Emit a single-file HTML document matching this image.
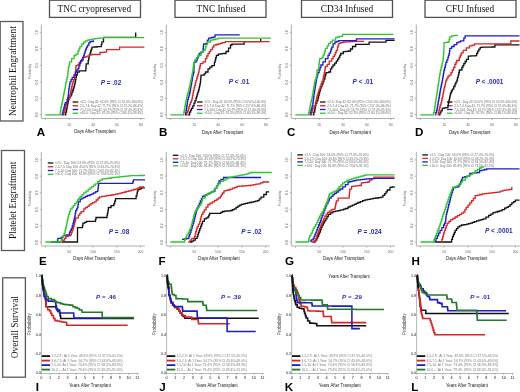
<!DOCTYPE html>
<html><head><meta charset="utf-8"><title>Figure</title>
<style>html,body{margin:0;padding:0;background:#fff;}body{width:520px;height:392px;overflow:hidden;}svg{display:block;will-change:transform;}</style>
</head><body>
<svg width="520" height="392" viewBox="0 0 520 392">
<rect x="0" y="0" width="520" height="392" fill="#fff"/>
<rect x="49.50" y="0.20" width="91.00" height="17.20" fill="none" stroke="#505050" stroke-width="1.30"/>
<text x="57.50" y="12.15" font-family='"Liberation Serif", serif' font-size="9.30" fill="#111">TNC cryopreserved</text>
<rect x="175.00" y="0.20" width="91.00" height="17.20" fill="none" stroke="#505050" stroke-width="1.30"/>
<text x="196.50" y="12.15" font-family='"Liberation Serif", serif' font-size="9.30" fill="#111">TNC Infused</text>
<rect x="301.50" y="0.20" width="91.00" height="17.20" fill="none" stroke="#505050" stroke-width="1.30"/>
<text x="320.80" y="12.15" font-family='"Liberation Serif", serif' font-size="9.30" fill="#111">CD34 Infused</text>
<rect x="425.00" y="0.20" width="91.00" height="17.20" fill="none" stroke="#505050" stroke-width="1.30"/>
<text x="445.80" y="12.15" font-family='"Liberation Serif", serif' font-size="9.30" fill="#111">CFU Infused</text>
<rect x="0.20" y="21.50" width="22.80" height="99.50" fill="none" stroke="#5a5a5a" stroke-width="1.30"/>
<text x="15.80" y="116.00" font-family='"Liberation Serif", serif' font-size="9.40" fill="#111" transform="rotate(-90.0 15.80 116.00)">Neutrophil Engraftment</text>
<rect x="1.50" y="150.50" width="23.00" height="100.00" fill="none" stroke="#5a5a5a" stroke-width="1.30"/>
<text x="16.10" y="239.00" font-family='"Liberation Serif", serif' font-size="9.40" fill="#111" transform="rotate(-90.0 16.10 239.00)">Platelet Engraftment</text>
<rect x="2.70" y="277.80" width="22.70" height="99.40" fill="none" stroke="#5a5a5a" stroke-width="1.30"/>
<text x="17.60" y="358.30" font-family='"Liberation Serif", serif' font-size="9.40" fill="#111" transform="rotate(-90.0 17.60 358.30)">Overall Survival</text>
<line x1="41.30" y1="24.50" x2="41.30" y2="118.00" stroke="#8a8a8a" stroke-width="0.70"/>
<line x1="39.70" y1="114.60" x2="41.30" y2="114.60" stroke="#8a8a8a" stroke-width="0.60"/>
<text x="37.70" y="114.60" font-family='"Liberation Sans", sans-serif' font-size="3.30" fill="#666" text-anchor="middle" transform="rotate(-90.0 37.70 114.60)">0.0</text>
<line x1="39.70" y1="98.30" x2="41.30" y2="98.30" stroke="#8a8a8a" stroke-width="0.60"/>
<text x="37.70" y="98.30" font-family='"Liberation Sans", sans-serif' font-size="3.30" fill="#666" text-anchor="middle" transform="rotate(-90.0 37.70 98.30)">0.2</text>
<line x1="39.70" y1="82.10" x2="41.30" y2="82.10" stroke="#8a8a8a" stroke-width="0.60"/>
<text x="37.70" y="82.10" font-family='"Liberation Sans", sans-serif' font-size="3.30" fill="#666" text-anchor="middle" transform="rotate(-90.0 37.70 82.10)">0.4</text>
<line x1="39.70" y1="65.30" x2="41.30" y2="65.30" stroke="#8a8a8a" stroke-width="0.60"/>
<text x="37.70" y="65.30" font-family='"Liberation Sans", sans-serif' font-size="3.30" fill="#666" text-anchor="middle" transform="rotate(-90.0 37.70 65.30)">0.6</text>
<line x1="39.70" y1="48.70" x2="41.30" y2="48.70" stroke="#8a8a8a" stroke-width="0.60"/>
<text x="37.70" y="48.70" font-family='"Liberation Sans", sans-serif' font-size="3.30" fill="#666" text-anchor="middle" transform="rotate(-90.0 37.70 48.70)">0.8</text>
<line x1="39.70" y1="32.40" x2="41.30" y2="32.40" stroke="#8a8a8a" stroke-width="0.60"/>
<text x="37.70" y="32.40" font-family='"Liberation Sans", sans-serif' font-size="3.30" fill="#666" text-anchor="middle" transform="rotate(-90.0 37.70 32.40)">1.0</text>
<text x="31.00" y="71.60" font-family='"Liberation Sans", sans-serif' font-size="3.30" fill="#666" text-anchor="middle" transform="rotate(-90.0 31.00 71.60)">Probability</text>
<line x1="41.30" y1="118.50" x2="144.80" y2="118.50" stroke="#8a8a8a" stroke-width="0.70"/>
<line x1="45.40" y1="118.50" x2="45.40" y2="120.10" stroke="#8a8a8a" stroke-width="0.60"/>
<line x1="69.28" y1="118.50" x2="69.28" y2="120.10" stroke="#8a8a8a" stroke-width="0.60"/>
<text x="69.28" y="125.50" font-family='"Liberation Sans", sans-serif' font-size="3.40" fill="#666" text-anchor="middle">20</text>
<line x1="93.15" y1="118.50" x2="93.15" y2="120.10" stroke="#8a8a8a" stroke-width="0.60"/>
<text x="93.15" y="125.50" font-family='"Liberation Sans", sans-serif' font-size="3.40" fill="#666" text-anchor="middle">40</text>
<line x1="117.03" y1="118.50" x2="117.03" y2="120.10" stroke="#8a8a8a" stroke-width="0.60"/>
<text x="117.03" y="125.50" font-family='"Liberation Sans", sans-serif' font-size="3.40" fill="#666" text-anchor="middle">60</text>
<line x1="140.90" y1="118.50" x2="140.90" y2="120.10" stroke="#8a8a8a" stroke-width="0.60"/>
<text x="140.90" y="125.50" font-family='"Liberation Sans", sans-serif' font-size="3.40" fill="#666" text-anchor="middle">80</text>
<text x="94.90" y="132.50" font-family='"Liberation Sans", sans-serif' font-size="4.60" fill="#222" text-anchor="middle" textLength="41.50" lengthAdjust="spacingAndGlyphs">Days After Transplant</text>
<text x="36.70" y="135.90" font-family='"Liberation Sans", sans-serif' font-size="11.60" fill="#000" font-weight="bold">A</text>
<text x="100.80" y="84.50" font-family='"Liberation Sans", sans-serif' font-size="6.40" font-weight="bold" fill="#2a2aa8"><tspan font-style="italic">P</tspan> = .02</text>
<line x1="72.60" y1="102.00" x2="78.20" y2="102.00" stroke="#111111" stroke-width="1.30"/>
<text x="79.90" y="103.20" font-family='"Liberation Sans", sans-serif' font-size="3.30" fill="#666" textLength="63.00" lengthAdjust="spacingAndGlyphs">&lt;2.5 :  Day 42: 62.0% (95% CI 52.0%-100.0%)</text>
<line x1="72.60" y1="105.75" x2="78.20" y2="105.75" stroke="#d82424" stroke-width="1.30"/>
<text x="79.90" y="106.95" font-family='"Liberation Sans", sans-serif' font-size="3.30" fill="#666" textLength="63.00" lengthAdjust="spacingAndGlyphs">2.5-7.4: Day 42: 71.7% (95% CI 57.0%-86.4%)</text>
<line x1="72.60" y1="109.50" x2="78.20" y2="109.50" stroke="#1c1cc8" stroke-width="1.30"/>
<text x="79.90" y="110.70" font-family='"Liberation Sans", sans-serif' font-size="3.30" fill="#666" textLength="63.00" lengthAdjust="spacingAndGlyphs">7.5-10.0: Day 42: 53.7% (95% CI 57.4%-95.3%)</text>
<line x1="72.60" y1="113.25" x2="78.20" y2="113.25" stroke="#2fc42f" stroke-width="1.30"/>
<text x="79.90" y="114.45" font-family='"Liberation Sans", sans-serif' font-size="3.30" fill="#666" textLength="63.00" lengthAdjust="spacingAndGlyphs">&gt;10.0 :  Day 42: 92.3% (95% CI 80.1%-99.4%)</text>
<line x1="166.30" y1="24.50" x2="166.30" y2="118.00" stroke="#8a8a8a" stroke-width="0.70"/>
<line x1="164.70" y1="114.60" x2="166.30" y2="114.60" stroke="#8a8a8a" stroke-width="0.60"/>
<text x="162.70" y="114.60" font-family='"Liberation Sans", sans-serif' font-size="3.30" fill="#666" text-anchor="middle" transform="rotate(-90.0 162.70 114.60)">0.0</text>
<line x1="164.70" y1="98.30" x2="166.30" y2="98.30" stroke="#8a8a8a" stroke-width="0.60"/>
<text x="162.70" y="98.30" font-family='"Liberation Sans", sans-serif' font-size="3.30" fill="#666" text-anchor="middle" transform="rotate(-90.0 162.70 98.30)">0.2</text>
<line x1="164.70" y1="82.10" x2="166.30" y2="82.10" stroke="#8a8a8a" stroke-width="0.60"/>
<text x="162.70" y="82.10" font-family='"Liberation Sans", sans-serif' font-size="3.30" fill="#666" text-anchor="middle" transform="rotate(-90.0 162.70 82.10)">0.4</text>
<line x1="164.70" y1="65.30" x2="166.30" y2="65.30" stroke="#8a8a8a" stroke-width="0.60"/>
<text x="162.70" y="65.30" font-family='"Liberation Sans", sans-serif' font-size="3.30" fill="#666" text-anchor="middle" transform="rotate(-90.0 162.70 65.30)">0.6</text>
<line x1="164.70" y1="48.70" x2="166.30" y2="48.70" stroke="#8a8a8a" stroke-width="0.60"/>
<text x="162.70" y="48.70" font-family='"Liberation Sans", sans-serif' font-size="3.30" fill="#666" text-anchor="middle" transform="rotate(-90.0 162.70 48.70)">0.8</text>
<line x1="164.70" y1="32.40" x2="166.30" y2="32.40" stroke="#8a8a8a" stroke-width="0.60"/>
<text x="162.70" y="32.40" font-family='"Liberation Sans", sans-serif' font-size="3.30" fill="#666" text-anchor="middle" transform="rotate(-90.0 162.70 32.40)">1.0</text>
<text x="156.00" y="71.60" font-family='"Liberation Sans", sans-serif' font-size="3.30" fill="#666" text-anchor="middle" transform="rotate(-90.0 156.00 71.60)">Probability</text>
<line x1="166.30" y1="118.50" x2="269.80" y2="118.50" stroke="#8a8a8a" stroke-width="0.70"/>
<line x1="170.40" y1="118.50" x2="170.40" y2="120.10" stroke="#8a8a8a" stroke-width="0.60"/>
<line x1="194.28" y1="118.50" x2="194.28" y2="120.10" stroke="#8a8a8a" stroke-width="0.60"/>
<text x="194.28" y="125.50" font-family='"Liberation Sans", sans-serif' font-size="3.40" fill="#666" text-anchor="middle">20</text>
<line x1="218.15" y1="118.50" x2="218.15" y2="120.10" stroke="#8a8a8a" stroke-width="0.60"/>
<text x="218.15" y="125.50" font-family='"Liberation Sans", sans-serif' font-size="3.40" fill="#666" text-anchor="middle">40</text>
<line x1="242.03" y1="118.50" x2="242.03" y2="120.10" stroke="#8a8a8a" stroke-width="0.60"/>
<text x="242.03" y="125.50" font-family='"Liberation Sans", sans-serif' font-size="3.40" fill="#666" text-anchor="middle">60</text>
<line x1="265.90" y1="118.50" x2="265.90" y2="120.10" stroke="#8a8a8a" stroke-width="0.60"/>
<text x="265.90" y="125.50" font-family='"Liberation Sans", sans-serif' font-size="3.40" fill="#666" text-anchor="middle">80</text>
<text x="222.80" y="133.90" font-family='"Liberation Sans", sans-serif' font-size="4.60" fill="#222" text-anchor="middle" textLength="41.50" lengthAdjust="spacingAndGlyphs">Days After Transplant</text>
<text x="158.90" y="135.90" font-family='"Liberation Sans", sans-serif' font-size="11.60" fill="#000" font-weight="bold">B</text>
<text x="228.80" y="84.40" font-family='"Liberation Sans", sans-serif' font-size="6.40" font-weight="bold" fill="#2a2aa8"><tspan font-style="italic">P</tspan> &lt; .01</text>
<line x1="197.00" y1="102.00" x2="202.60" y2="102.00" stroke="#111111" stroke-width="1.30"/>
<text x="204.30" y="103.20" font-family='"Liberation Sans", sans-serif' font-size="3.30" fill="#666" textLength="62.00" lengthAdjust="spacingAndGlyphs">&lt;2.5 :  Day 42: 62.0% (95% CI 52.0%-100.0%)</text>
<line x1="197.00" y1="105.75" x2="202.60" y2="105.75" stroke="#d82424" stroke-width="1.30"/>
<text x="204.30" y="106.95" font-family='"Liberation Sans", sans-serif' font-size="3.30" fill="#666" textLength="62.00" lengthAdjust="spacingAndGlyphs">2.5-7.4: Day 42: 71.7% (95% CI 57.0%-86.4%)</text>
<line x1="197.00" y1="109.50" x2="202.60" y2="109.50" stroke="#1c1cc8" stroke-width="1.30"/>
<text x="204.30" y="110.70" font-family='"Liberation Sans", sans-serif' font-size="3.30" fill="#666" textLength="62.00" lengthAdjust="spacingAndGlyphs">7.5-10.0: Day 42: 53.7% (95% CI 57.4%-95.3%)</text>
<line x1="197.00" y1="113.25" x2="202.60" y2="113.25" stroke="#2fc42f" stroke-width="1.30"/>
<text x="204.30" y="114.45" font-family='"Liberation Sans", sans-serif' font-size="3.30" fill="#666" textLength="62.00" lengthAdjust="spacingAndGlyphs">&gt;10.0 :  Day 42: 92.3% (95% CI 80.1%-99.4%)</text>
<line x1="291.30" y1="24.50" x2="291.30" y2="118.00" stroke="#8a8a8a" stroke-width="0.70"/>
<line x1="289.70" y1="114.60" x2="291.30" y2="114.60" stroke="#8a8a8a" stroke-width="0.60"/>
<text x="287.70" y="114.60" font-family='"Liberation Sans", sans-serif' font-size="3.30" fill="#666" text-anchor="middle" transform="rotate(-90.0 287.70 114.60)">0.0</text>
<line x1="289.70" y1="98.30" x2="291.30" y2="98.30" stroke="#8a8a8a" stroke-width="0.60"/>
<text x="287.70" y="98.30" font-family='"Liberation Sans", sans-serif' font-size="3.30" fill="#666" text-anchor="middle" transform="rotate(-90.0 287.70 98.30)">0.2</text>
<line x1="289.70" y1="82.10" x2="291.30" y2="82.10" stroke="#8a8a8a" stroke-width="0.60"/>
<text x="287.70" y="82.10" font-family='"Liberation Sans", sans-serif' font-size="3.30" fill="#666" text-anchor="middle" transform="rotate(-90.0 287.70 82.10)">0.4</text>
<line x1="289.70" y1="65.30" x2="291.30" y2="65.30" stroke="#8a8a8a" stroke-width="0.60"/>
<text x="287.70" y="65.30" font-family='"Liberation Sans", sans-serif' font-size="3.30" fill="#666" text-anchor="middle" transform="rotate(-90.0 287.70 65.30)">0.6</text>
<line x1="289.70" y1="48.70" x2="291.30" y2="48.70" stroke="#8a8a8a" stroke-width="0.60"/>
<text x="287.70" y="48.70" font-family='"Liberation Sans", sans-serif' font-size="3.30" fill="#666" text-anchor="middle" transform="rotate(-90.0 287.70 48.70)">0.8</text>
<line x1="289.70" y1="32.40" x2="291.30" y2="32.40" stroke="#8a8a8a" stroke-width="0.60"/>
<text x="287.70" y="32.40" font-family='"Liberation Sans", sans-serif' font-size="3.30" fill="#666" text-anchor="middle" transform="rotate(-90.0 287.70 32.40)">1.0</text>
<text x="281.00" y="71.60" font-family='"Liberation Sans", sans-serif' font-size="3.30" fill="#666" text-anchor="middle" transform="rotate(-90.0 281.00 71.60)">Probability</text>
<line x1="291.30" y1="118.50" x2="394.80" y2="118.50" stroke="#8a8a8a" stroke-width="0.70"/>
<line x1="295.40" y1="118.50" x2="295.40" y2="120.10" stroke="#8a8a8a" stroke-width="0.60"/>
<line x1="319.27" y1="118.50" x2="319.27" y2="120.10" stroke="#8a8a8a" stroke-width="0.60"/>
<text x="319.27" y="125.50" font-family='"Liberation Sans", sans-serif' font-size="3.40" fill="#666" text-anchor="middle">20</text>
<line x1="343.15" y1="118.50" x2="343.15" y2="120.10" stroke="#8a8a8a" stroke-width="0.60"/>
<text x="343.15" y="125.50" font-family='"Liberation Sans", sans-serif' font-size="3.40" fill="#666" text-anchor="middle">40</text>
<line x1="367.02" y1="118.50" x2="367.02" y2="120.10" stroke="#8a8a8a" stroke-width="0.60"/>
<text x="367.02" y="125.50" font-family='"Liberation Sans", sans-serif' font-size="3.40" fill="#666" text-anchor="middle">60</text>
<line x1="390.90" y1="118.50" x2="390.90" y2="120.10" stroke="#8a8a8a" stroke-width="0.60"/>
<text x="390.90" y="125.50" font-family='"Liberation Sans", sans-serif' font-size="3.40" fill="#666" text-anchor="middle">80</text>
<text x="350.20" y="133.80" font-family='"Liberation Sans", sans-serif' font-size="4.60" fill="#222" text-anchor="middle" textLength="41.50" lengthAdjust="spacingAndGlyphs">Days After Transplant</text>
<text x="287.00" y="135.90" font-family='"Liberation Sans", sans-serif' font-size="11.60" fill="#000" font-weight="bold">C</text>
<text x="352.60" y="84.20" font-family='"Liberation Sans", sans-serif' font-size="6.40" font-weight="bold" fill="#2a2aa8"><tspan font-style="italic">P</tspan> &lt; .01</text>
<line x1="320.00" y1="102.00" x2="325.60" y2="102.00" stroke="#111111" stroke-width="1.30"/>
<text x="327.30" y="103.20" font-family='"Liberation Sans", sans-serif' font-size="3.30" fill="#666" textLength="63.50" lengthAdjust="spacingAndGlyphs">&lt;2.5 :  Day 42: 62.0% (95% CI 52.0%-100.0%)</text>
<line x1="320.00" y1="105.75" x2="325.60" y2="105.75" stroke="#d82424" stroke-width="1.30"/>
<text x="327.30" y="106.95" font-family='"Liberation Sans", sans-serif' font-size="3.30" fill="#666" textLength="63.50" lengthAdjust="spacingAndGlyphs">2.5-7.4: Day 42: 71.7% (95% CI 57.0%-86.4%)</text>
<line x1="320.00" y1="109.50" x2="325.60" y2="109.50" stroke="#1c1cc8" stroke-width="1.30"/>
<text x="327.30" y="110.70" font-family='"Liberation Sans", sans-serif' font-size="3.30" fill="#666" textLength="63.50" lengthAdjust="spacingAndGlyphs">7.5-10.0: Day 42: 53.7% (95% CI 57.4%-95.3%)</text>
<line x1="320.00" y1="113.25" x2="325.60" y2="113.25" stroke="#2fc42f" stroke-width="1.30"/>
<text x="327.30" y="114.45" font-family='"Liberation Sans", sans-serif' font-size="3.30" fill="#666" textLength="63.50" lengthAdjust="spacingAndGlyphs">&gt;10.0 :  Day 42: 92.3% (95% CI 80.1%-99.4%)</text>
<line x1="416.30" y1="24.50" x2="416.30" y2="118.00" stroke="#8a8a8a" stroke-width="0.70"/>
<line x1="414.70" y1="114.60" x2="416.30" y2="114.60" stroke="#8a8a8a" stroke-width="0.60"/>
<text x="412.70" y="114.60" font-family='"Liberation Sans", sans-serif' font-size="3.30" fill="#666" text-anchor="middle" transform="rotate(-90.0 412.70 114.60)">0.0</text>
<line x1="414.70" y1="98.30" x2="416.30" y2="98.30" stroke="#8a8a8a" stroke-width="0.60"/>
<text x="412.70" y="98.30" font-family='"Liberation Sans", sans-serif' font-size="3.30" fill="#666" text-anchor="middle" transform="rotate(-90.0 412.70 98.30)">0.2</text>
<line x1="414.70" y1="82.10" x2="416.30" y2="82.10" stroke="#8a8a8a" stroke-width="0.60"/>
<text x="412.70" y="82.10" font-family='"Liberation Sans", sans-serif' font-size="3.30" fill="#666" text-anchor="middle" transform="rotate(-90.0 412.70 82.10)">0.4</text>
<line x1="414.70" y1="65.30" x2="416.30" y2="65.30" stroke="#8a8a8a" stroke-width="0.60"/>
<text x="412.70" y="65.30" font-family='"Liberation Sans", sans-serif' font-size="3.30" fill="#666" text-anchor="middle" transform="rotate(-90.0 412.70 65.30)">0.6</text>
<line x1="414.70" y1="48.70" x2="416.30" y2="48.70" stroke="#8a8a8a" stroke-width="0.60"/>
<text x="412.70" y="48.70" font-family='"Liberation Sans", sans-serif' font-size="3.30" fill="#666" text-anchor="middle" transform="rotate(-90.0 412.70 48.70)">0.8</text>
<line x1="414.70" y1="32.40" x2="416.30" y2="32.40" stroke="#8a8a8a" stroke-width="0.60"/>
<text x="412.70" y="32.40" font-family='"Liberation Sans", sans-serif' font-size="3.30" fill="#666" text-anchor="middle" transform="rotate(-90.0 412.70 32.40)">1.0</text>
<text x="406.00" y="71.60" font-family='"Liberation Sans", sans-serif' font-size="3.30" fill="#666" text-anchor="middle" transform="rotate(-90.0 406.00 71.60)">Probability</text>
<line x1="416.30" y1="118.50" x2="519.80" y2="118.50" stroke="#8a8a8a" stroke-width="0.70"/>
<line x1="420.40" y1="118.50" x2="420.40" y2="120.10" stroke="#8a8a8a" stroke-width="0.60"/>
<line x1="444.27" y1="118.50" x2="444.27" y2="120.10" stroke="#8a8a8a" stroke-width="0.60"/>
<text x="444.27" y="125.50" font-family='"Liberation Sans", sans-serif' font-size="3.40" fill="#666" text-anchor="middle">20</text>
<line x1="468.15" y1="118.50" x2="468.15" y2="120.10" stroke="#8a8a8a" stroke-width="0.60"/>
<text x="468.15" y="125.50" font-family='"Liberation Sans", sans-serif' font-size="3.40" fill="#666" text-anchor="middle">40</text>
<line x1="492.02" y1="118.50" x2="492.02" y2="120.10" stroke="#8a8a8a" stroke-width="0.60"/>
<text x="492.02" y="125.50" font-family='"Liberation Sans", sans-serif' font-size="3.40" fill="#666" text-anchor="middle">60</text>
<line x1="515.90" y1="118.50" x2="515.90" y2="120.10" stroke="#8a8a8a" stroke-width="0.60"/>
<text x="515.90" y="125.50" font-family='"Liberation Sans", sans-serif' font-size="3.40" fill="#666" text-anchor="middle">80</text>
<text x="469.80" y="133.80" font-family='"Liberation Sans", sans-serif' font-size="4.60" fill="#222" text-anchor="middle" textLength="41.50" lengthAdjust="spacingAndGlyphs">Days After Transplant</text>
<text x="415.10" y="135.90" font-family='"Liberation Sans", sans-serif' font-size="11.60" fill="#000" font-weight="bold">D</text>
<text x="475.80" y="84.10" font-family='"Liberation Sans", sans-serif' font-size="6.40" font-weight="bold" fill="#2a2aa8"><tspan font-style="italic">P</tspan> &lt; .0001</text>
<line x1="446.90" y1="102.00" x2="452.50" y2="102.00" stroke="#111111" stroke-width="1.30"/>
<text x="454.20" y="103.20" font-family='"Liberation Sans", sans-serif' font-size="3.30" fill="#666" textLength="63.00" lengthAdjust="spacingAndGlyphs">&lt;2.5 :  Day 42: 62.0% (95% CI 52.0%-100.0%)</text>
<line x1="446.90" y1="105.75" x2="452.50" y2="105.75" stroke="#d82424" stroke-width="1.30"/>
<text x="454.20" y="106.95" font-family='"Liberation Sans", sans-serif' font-size="3.30" fill="#666" textLength="63.00" lengthAdjust="spacingAndGlyphs">2.5-7.4: Day 42: 71.7% (95% CI 57.0%-86.4%)</text>
<line x1="446.90" y1="109.50" x2="452.50" y2="109.50" stroke="#1c1cc8" stroke-width="1.30"/>
<text x="454.20" y="110.70" font-family='"Liberation Sans", sans-serif' font-size="3.30" fill="#666" textLength="63.00" lengthAdjust="spacingAndGlyphs">7.5-10.0: Day 42: 53.7% (95% CI 57.4%-95.3%)</text>
<line x1="446.90" y1="113.25" x2="452.50" y2="113.25" stroke="#2fc42f" stroke-width="1.30"/>
<text x="454.20" y="114.45" font-family='"Liberation Sans", sans-serif' font-size="3.30" fill="#666" textLength="63.00" lengthAdjust="spacingAndGlyphs">&gt;10.0 :  Day 42: 92.3% (95% CI 80.1%-99.4%)</text>
<line x1="41.30" y1="152.00" x2="41.30" y2="245.50" stroke="#8a8a8a" stroke-width="0.70"/>
<line x1="39.70" y1="242.10" x2="41.30" y2="242.10" stroke="#8a8a8a" stroke-width="0.60"/>
<text x="37.70" y="242.10" font-family='"Liberation Sans", sans-serif' font-size="3.30" fill="#666" text-anchor="middle" transform="rotate(-90.0 37.70 242.10)">0.0</text>
<line x1="39.70" y1="225.80" x2="41.30" y2="225.80" stroke="#8a8a8a" stroke-width="0.60"/>
<text x="37.70" y="225.80" font-family='"Liberation Sans", sans-serif' font-size="3.30" fill="#666" text-anchor="middle" transform="rotate(-90.0 37.70 225.80)">0.2</text>
<line x1="39.70" y1="209.60" x2="41.30" y2="209.60" stroke="#8a8a8a" stroke-width="0.60"/>
<text x="37.70" y="209.60" font-family='"Liberation Sans", sans-serif' font-size="3.30" fill="#666" text-anchor="middle" transform="rotate(-90.0 37.70 209.60)">0.4</text>
<line x1="39.70" y1="192.80" x2="41.30" y2="192.80" stroke="#8a8a8a" stroke-width="0.60"/>
<text x="37.70" y="192.80" font-family='"Liberation Sans", sans-serif' font-size="3.30" fill="#666" text-anchor="middle" transform="rotate(-90.0 37.70 192.80)">0.6</text>
<line x1="39.70" y1="176.20" x2="41.30" y2="176.20" stroke="#8a8a8a" stroke-width="0.60"/>
<text x="37.70" y="176.20" font-family='"Liberation Sans", sans-serif' font-size="3.30" fill="#666" text-anchor="middle" transform="rotate(-90.0 37.70 176.20)">0.8</text>
<line x1="39.70" y1="159.90" x2="41.30" y2="159.90" stroke="#8a8a8a" stroke-width="0.60"/>
<text x="37.70" y="159.90" font-family='"Liberation Sans", sans-serif' font-size="3.30" fill="#666" text-anchor="middle" transform="rotate(-90.0 37.70 159.90)">1.0</text>
<text x="31.00" y="198.50" font-family='"Liberation Sans", sans-serif' font-size="3.30" fill="#666" text-anchor="middle" transform="rotate(-90.0 31.00 198.50)">Probability</text>
<line x1="41.30" y1="246.00" x2="144.80" y2="246.00" stroke="#8a8a8a" stroke-width="0.70"/>
<line x1="45.40" y1="246.00" x2="45.40" y2="247.60" stroke="#8a8a8a" stroke-width="0.60"/>
<line x1="69.17" y1="246.00" x2="69.17" y2="247.60" stroke="#8a8a8a" stroke-width="0.60"/>
<text x="69.17" y="253.00" font-family='"Liberation Sans", sans-serif' font-size="3.40" fill="#666" text-anchor="middle">50</text>
<line x1="92.95" y1="246.00" x2="92.95" y2="247.60" stroke="#8a8a8a" stroke-width="0.60"/>
<text x="92.95" y="253.00" font-family='"Liberation Sans", sans-serif' font-size="3.40" fill="#666" text-anchor="middle">100</text>
<line x1="116.72" y1="246.00" x2="116.72" y2="247.60" stroke="#8a8a8a" stroke-width="0.60"/>
<text x="116.72" y="253.00" font-family='"Liberation Sans", sans-serif' font-size="3.40" fill="#666" text-anchor="middle">150</text>
<line x1="140.50" y1="246.00" x2="140.50" y2="247.60" stroke="#8a8a8a" stroke-width="0.60"/>
<text x="140.50" y="253.00" font-family='"Liberation Sans", sans-serif' font-size="3.40" fill="#666" text-anchor="middle">200</text>
<text x="94.00" y="259.60" font-family='"Liberation Sans", sans-serif' font-size="4.60" fill="#222" text-anchor="middle" textLength="41.50" lengthAdjust="spacingAndGlyphs">Days After Transplant</text>
<text x="38.90" y="264.60" font-family='"Liberation Sans", sans-serif' font-size="11.60" fill="#000" font-weight="bold">E</text>
<text x="108.80" y="233.50" font-family='"Liberation Sans", sans-serif' font-size="6.40" font-weight="bold" fill="#2a2aa8"><tspan font-style="italic">P</tspan> = .08</text>
<line x1="47.80" y1="163.00" x2="53.40" y2="163.00" stroke="#111111" stroke-width="1.30"/>
<text x="55.10" y="164.20" font-family='"Liberation Sans", sans-serif' font-size="3.30" fill="#666" textLength="64.80" lengthAdjust="spacingAndGlyphs">&lt;2.5 :  Day 100: 53.0% (95% CI 27.0%-70.0%)</text>
<line x1="47.80" y1="166.75" x2="53.40" y2="166.75" stroke="#d82424" stroke-width="1.30"/>
<text x="55.10" y="167.95" font-family='"Liberation Sans", sans-serif' font-size="3.30" fill="#666" textLength="64.80" lengthAdjust="spacingAndGlyphs">2.5-7.5: Day 100: 45.6% (95% CI 43.2%-70.3%)</text>
<line x1="47.80" y1="170.50" x2="53.40" y2="170.50" stroke="#1c1cc8" stroke-width="1.30"/>
<text x="55.10" y="171.70" font-family='"Liberation Sans", sans-serif' font-size="3.30" fill="#666" textLength="64.80" lengthAdjust="spacingAndGlyphs">7.5-10: Day 100: 71.7% (95% CI 63.5%-82.4%)</text>
<line x1="47.80" y1="174.25" x2="53.40" y2="174.25" stroke="#2fc42f" stroke-width="1.30"/>
<text x="55.10" y="175.45" font-family='"Liberation Sans", sans-serif' font-size="3.30" fill="#666" textLength="64.80" lengthAdjust="spacingAndGlyphs">&gt;10.0 :  Day 100: 81.8% (95% CI 73.6%-92.1%)</text>
<line x1="166.30" y1="152.00" x2="166.30" y2="245.50" stroke="#8a8a8a" stroke-width="0.70"/>
<line x1="164.70" y1="242.10" x2="166.30" y2="242.10" stroke="#8a8a8a" stroke-width="0.60"/>
<text x="162.70" y="242.10" font-family='"Liberation Sans", sans-serif' font-size="3.30" fill="#666" text-anchor="middle" transform="rotate(-90.0 162.70 242.10)">0.0</text>
<line x1="164.70" y1="225.80" x2="166.30" y2="225.80" stroke="#8a8a8a" stroke-width="0.60"/>
<text x="162.70" y="225.80" font-family='"Liberation Sans", sans-serif' font-size="3.30" fill="#666" text-anchor="middle" transform="rotate(-90.0 162.70 225.80)">0.2</text>
<line x1="164.70" y1="209.60" x2="166.30" y2="209.60" stroke="#8a8a8a" stroke-width="0.60"/>
<text x="162.70" y="209.60" font-family='"Liberation Sans", sans-serif' font-size="3.30" fill="#666" text-anchor="middle" transform="rotate(-90.0 162.70 209.60)">0.4</text>
<line x1="164.70" y1="192.80" x2="166.30" y2="192.80" stroke="#8a8a8a" stroke-width="0.60"/>
<text x="162.70" y="192.80" font-family='"Liberation Sans", sans-serif' font-size="3.30" fill="#666" text-anchor="middle" transform="rotate(-90.0 162.70 192.80)">0.6</text>
<line x1="164.70" y1="176.20" x2="166.30" y2="176.20" stroke="#8a8a8a" stroke-width="0.60"/>
<text x="162.70" y="176.20" font-family='"Liberation Sans", sans-serif' font-size="3.30" fill="#666" text-anchor="middle" transform="rotate(-90.0 162.70 176.20)">0.8</text>
<line x1="164.70" y1="159.90" x2="166.30" y2="159.90" stroke="#8a8a8a" stroke-width="0.60"/>
<text x="162.70" y="159.90" font-family='"Liberation Sans", sans-serif' font-size="3.30" fill="#666" text-anchor="middle" transform="rotate(-90.0 162.70 159.90)">1.0</text>
<text x="156.00" y="198.50" font-family='"Liberation Sans", sans-serif' font-size="3.30" fill="#666" text-anchor="middle" transform="rotate(-90.0 156.00 198.50)">Probability</text>
<line x1="166.30" y1="246.00" x2="269.80" y2="246.00" stroke="#8a8a8a" stroke-width="0.70"/>
<line x1="170.40" y1="246.00" x2="170.40" y2="247.60" stroke="#8a8a8a" stroke-width="0.60"/>
<line x1="194.18" y1="246.00" x2="194.18" y2="247.60" stroke="#8a8a8a" stroke-width="0.60"/>
<text x="194.18" y="253.00" font-family='"Liberation Sans", sans-serif' font-size="3.40" fill="#666" text-anchor="middle">50</text>
<line x1="217.95" y1="246.00" x2="217.95" y2="247.60" stroke="#8a8a8a" stroke-width="0.60"/>
<text x="217.95" y="253.00" font-family='"Liberation Sans", sans-serif' font-size="3.40" fill="#666" text-anchor="middle">100</text>
<line x1="241.73" y1="246.00" x2="241.73" y2="247.60" stroke="#8a8a8a" stroke-width="0.60"/>
<text x="241.73" y="253.00" font-family='"Liberation Sans", sans-serif' font-size="3.40" fill="#666" text-anchor="middle">150</text>
<line x1="265.50" y1="246.00" x2="265.50" y2="247.60" stroke="#8a8a8a" stroke-width="0.60"/>
<text x="265.50" y="253.00" font-family='"Liberation Sans", sans-serif' font-size="3.40" fill="#666" text-anchor="middle">200</text>
<text x="219.00" y="260.00" font-family='"Liberation Sans", sans-serif' font-size="4.60" fill="#222" text-anchor="middle" textLength="41.50" lengthAdjust="spacingAndGlyphs">Days After Transplant</text>
<text x="158.60" y="264.60" font-family='"Liberation Sans", sans-serif' font-size="11.60" fill="#000" font-weight="bold">F</text>
<text x="241.20" y="233.50" font-family='"Liberation Sans", sans-serif' font-size="6.40" font-weight="bold" fill="#2a2aa8"><tspan font-style="italic">P</tspan> = .02</text>
<line x1="172.80" y1="155.30" x2="178.40" y2="155.30" stroke="#111111" stroke-width="1.30"/>
<text x="180.10" y="156.50" font-family='"Liberation Sans", sans-serif' font-size="3.30" fill="#666" textLength="65.70" lengthAdjust="spacingAndGlyphs">&lt;2.5 :  Day 100: 53.0% (95% CI 27.0%-70.0%)</text>
<line x1="172.80" y1="158.80" x2="178.40" y2="158.80" stroke="#d82424" stroke-width="1.30"/>
<text x="180.10" y="160.00" font-family='"Liberation Sans", sans-serif' font-size="3.30" fill="#666" textLength="65.70" lengthAdjust="spacingAndGlyphs">2.5-7.5: Day 100: 45.6% (95% CI 43.2%-70.3%)</text>
<line x1="172.80" y1="162.30" x2="178.40" y2="162.30" stroke="#1c1cc8" stroke-width="1.30"/>
<text x="180.10" y="163.50" font-family='"Liberation Sans", sans-serif' font-size="3.30" fill="#666" textLength="65.70" lengthAdjust="spacingAndGlyphs">7.5-10: Day 100: 71.7% (95% CI 63.5%-82.4%)</text>
<line x1="172.80" y1="165.80" x2="178.40" y2="165.80" stroke="#2fc42f" stroke-width="1.30"/>
<text x="180.10" y="167.00" font-family='"Liberation Sans", sans-serif' font-size="3.30" fill="#666" textLength="65.70" lengthAdjust="spacingAndGlyphs">&gt;10.0 :  Day 100: 81.8% (95% CI 73.6%-92.1%)</text>
<line x1="291.30" y1="152.00" x2="291.30" y2="245.50" stroke="#8a8a8a" stroke-width="0.70"/>
<line x1="289.70" y1="242.10" x2="291.30" y2="242.10" stroke="#8a8a8a" stroke-width="0.60"/>
<text x="287.70" y="242.10" font-family='"Liberation Sans", sans-serif' font-size="3.30" fill="#666" text-anchor="middle" transform="rotate(-90.0 287.70 242.10)">0.0</text>
<line x1="289.70" y1="225.80" x2="291.30" y2="225.80" stroke="#8a8a8a" stroke-width="0.60"/>
<text x="287.70" y="225.80" font-family='"Liberation Sans", sans-serif' font-size="3.30" fill="#666" text-anchor="middle" transform="rotate(-90.0 287.70 225.80)">0.2</text>
<line x1="289.70" y1="209.60" x2="291.30" y2="209.60" stroke="#8a8a8a" stroke-width="0.60"/>
<text x="287.70" y="209.60" font-family='"Liberation Sans", sans-serif' font-size="3.30" fill="#666" text-anchor="middle" transform="rotate(-90.0 287.70 209.60)">0.4</text>
<line x1="289.70" y1="192.80" x2="291.30" y2="192.80" stroke="#8a8a8a" stroke-width="0.60"/>
<text x="287.70" y="192.80" font-family='"Liberation Sans", sans-serif' font-size="3.30" fill="#666" text-anchor="middle" transform="rotate(-90.0 287.70 192.80)">0.6</text>
<line x1="289.70" y1="176.20" x2="291.30" y2="176.20" stroke="#8a8a8a" stroke-width="0.60"/>
<text x="287.70" y="176.20" font-family='"Liberation Sans", sans-serif' font-size="3.30" fill="#666" text-anchor="middle" transform="rotate(-90.0 287.70 176.20)">0.8</text>
<line x1="289.70" y1="159.90" x2="291.30" y2="159.90" stroke="#8a8a8a" stroke-width="0.60"/>
<text x="287.70" y="159.90" font-family='"Liberation Sans", sans-serif' font-size="3.30" fill="#666" text-anchor="middle" transform="rotate(-90.0 287.70 159.90)">1.0</text>
<text x="281.00" y="198.50" font-family='"Liberation Sans", sans-serif' font-size="3.30" fill="#666" text-anchor="middle" transform="rotate(-90.0 281.00 198.50)">Probability</text>
<line x1="291.30" y1="246.00" x2="394.80" y2="246.00" stroke="#8a8a8a" stroke-width="0.70"/>
<line x1="295.40" y1="246.00" x2="295.40" y2="247.60" stroke="#8a8a8a" stroke-width="0.60"/>
<line x1="319.17" y1="246.00" x2="319.17" y2="247.60" stroke="#8a8a8a" stroke-width="0.60"/>
<text x="319.17" y="253.00" font-family='"Liberation Sans", sans-serif' font-size="3.40" fill="#666" text-anchor="middle">50</text>
<line x1="342.95" y1="246.00" x2="342.95" y2="247.60" stroke="#8a8a8a" stroke-width="0.60"/>
<text x="342.95" y="253.00" font-family='"Liberation Sans", sans-serif' font-size="3.40" fill="#666" text-anchor="middle">100</text>
<line x1="366.72" y1="246.00" x2="366.72" y2="247.60" stroke="#8a8a8a" stroke-width="0.60"/>
<text x="366.72" y="253.00" font-family='"Liberation Sans", sans-serif' font-size="3.40" fill="#666" text-anchor="middle">150</text>
<line x1="390.50" y1="246.00" x2="390.50" y2="247.60" stroke="#8a8a8a" stroke-width="0.60"/>
<text x="390.50" y="253.00" font-family='"Liberation Sans", sans-serif' font-size="3.40" fill="#666" text-anchor="middle">200</text>
<text x="343.80" y="259.90" font-family='"Liberation Sans", sans-serif' font-size="4.60" fill="#222" text-anchor="middle" textLength="41.50" lengthAdjust="spacingAndGlyphs">Days After Transplant</text>
<text x="285.00" y="264.60" font-family='"Liberation Sans", sans-serif' font-size="11.60" fill="#000" font-weight="bold">G</text>
<text x="357.50" y="233.70" font-family='"Liberation Sans", sans-serif' font-size="6.40" font-weight="bold" fill="#2a2aa8"><tspan font-style="italic">P</tspan> = .024</text>
<line x1="297.30" y1="154.90" x2="302.90" y2="154.90" stroke="#111111" stroke-width="1.30"/>
<text x="304.60" y="156.10" font-family='"Liberation Sans", sans-serif' font-size="3.30" fill="#666" textLength="64.00" lengthAdjust="spacingAndGlyphs">&lt;2.5 :  Day 100: 53.0% (95% CI 27.0%-70.0%)</text>
<line x1="297.30" y1="158.40" x2="302.90" y2="158.40" stroke="#d82424" stroke-width="1.30"/>
<text x="304.60" y="159.60" font-family='"Liberation Sans", sans-serif' font-size="3.30" fill="#666" textLength="64.00" lengthAdjust="spacingAndGlyphs">2.5-7.5: Day 100: 45.6% (95% CI 43.2%-70.3%)</text>
<line x1="297.30" y1="161.90" x2="302.90" y2="161.90" stroke="#1c1cc8" stroke-width="1.30"/>
<text x="304.60" y="163.10" font-family='"Liberation Sans", sans-serif' font-size="3.30" fill="#666" textLength="64.00" lengthAdjust="spacingAndGlyphs">7.5-10: Day 100: 71.7% (95% CI 63.5%-82.4%)</text>
<line x1="297.30" y1="165.40" x2="302.90" y2="165.40" stroke="#2fc42f" stroke-width="1.30"/>
<text x="304.60" y="166.60" font-family='"Liberation Sans", sans-serif' font-size="3.30" fill="#666" textLength="64.00" lengthAdjust="spacingAndGlyphs">&gt;10.0 :  Day 100: 81.8% (95% CI 73.6%-92.1%)</text>
<line x1="416.30" y1="152.00" x2="416.30" y2="245.50" stroke="#8a8a8a" stroke-width="0.70"/>
<line x1="414.70" y1="242.10" x2="416.30" y2="242.10" stroke="#8a8a8a" stroke-width="0.60"/>
<text x="412.70" y="242.10" font-family='"Liberation Sans", sans-serif' font-size="3.30" fill="#666" text-anchor="middle" transform="rotate(-90.0 412.70 242.10)">0.0</text>
<line x1="414.70" y1="225.80" x2="416.30" y2="225.80" stroke="#8a8a8a" stroke-width="0.60"/>
<text x="412.70" y="225.80" font-family='"Liberation Sans", sans-serif' font-size="3.30" fill="#666" text-anchor="middle" transform="rotate(-90.0 412.70 225.80)">0.2</text>
<line x1="414.70" y1="209.60" x2="416.30" y2="209.60" stroke="#8a8a8a" stroke-width="0.60"/>
<text x="412.70" y="209.60" font-family='"Liberation Sans", sans-serif' font-size="3.30" fill="#666" text-anchor="middle" transform="rotate(-90.0 412.70 209.60)">0.4</text>
<line x1="414.70" y1="192.80" x2="416.30" y2="192.80" stroke="#8a8a8a" stroke-width="0.60"/>
<text x="412.70" y="192.80" font-family='"Liberation Sans", sans-serif' font-size="3.30" fill="#666" text-anchor="middle" transform="rotate(-90.0 412.70 192.80)">0.6</text>
<line x1="414.70" y1="176.20" x2="416.30" y2="176.20" stroke="#8a8a8a" stroke-width="0.60"/>
<text x="412.70" y="176.20" font-family='"Liberation Sans", sans-serif' font-size="3.30" fill="#666" text-anchor="middle" transform="rotate(-90.0 412.70 176.20)">0.8</text>
<line x1="414.70" y1="159.90" x2="416.30" y2="159.90" stroke="#8a8a8a" stroke-width="0.60"/>
<text x="412.70" y="159.90" font-family='"Liberation Sans", sans-serif' font-size="3.30" fill="#666" text-anchor="middle" transform="rotate(-90.0 412.70 159.90)">1.0</text>
<text x="406.00" y="198.50" font-family='"Liberation Sans", sans-serif' font-size="3.30" fill="#666" text-anchor="middle" transform="rotate(-90.0 406.00 198.50)">Probability</text>
<line x1="416.30" y1="246.00" x2="519.80" y2="246.00" stroke="#8a8a8a" stroke-width="0.70"/>
<line x1="420.40" y1="246.00" x2="420.40" y2="247.60" stroke="#8a8a8a" stroke-width="0.60"/>
<line x1="444.17" y1="246.00" x2="444.17" y2="247.60" stroke="#8a8a8a" stroke-width="0.60"/>
<text x="444.17" y="253.00" font-family='"Liberation Sans", sans-serif' font-size="3.40" fill="#666" text-anchor="middle">50</text>
<line x1="467.95" y1="246.00" x2="467.95" y2="247.60" stroke="#8a8a8a" stroke-width="0.60"/>
<text x="467.95" y="253.00" font-family='"Liberation Sans", sans-serif' font-size="3.40" fill="#666" text-anchor="middle">100</text>
<line x1="491.72" y1="246.00" x2="491.72" y2="247.60" stroke="#8a8a8a" stroke-width="0.60"/>
<text x="491.72" y="253.00" font-family='"Liberation Sans", sans-serif' font-size="3.40" fill="#666" text-anchor="middle">150</text>
<line x1="515.50" y1="246.00" x2="515.50" y2="247.60" stroke="#8a8a8a" stroke-width="0.60"/>
<text x="515.50" y="253.00" font-family='"Liberation Sans", sans-serif' font-size="3.40" fill="#666" text-anchor="middle">200</text>
<text x="466.80" y="259.60" font-family='"Liberation Sans", sans-serif' font-size="4.60" fill="#222" text-anchor="middle" textLength="41.50" lengthAdjust="spacingAndGlyphs">Days After Transplant</text>
<text x="411.50" y="264.60" font-family='"Liberation Sans", sans-serif' font-size="11.60" fill="#000" font-weight="bold">H</text>
<text x="485.00" y="233.40" font-family='"Liberation Sans", sans-serif' font-size="6.40" font-weight="bold" fill="#2a2aa8"><tspan font-style="italic">P</tspan> &lt; .0001</text>
<line x1="422.30" y1="154.90" x2="427.90" y2="154.90" stroke="#111111" stroke-width="1.30"/>
<text x="429.60" y="156.10" font-family='"Liberation Sans", sans-serif' font-size="3.30" fill="#666" textLength="64.80" lengthAdjust="spacingAndGlyphs">&lt;2.5 :  Day 100: 53.0% (95% CI 27.0%-70.0%)</text>
<line x1="422.30" y1="158.40" x2="427.90" y2="158.40" stroke="#d82424" stroke-width="1.30"/>
<text x="429.60" y="159.60" font-family='"Liberation Sans", sans-serif' font-size="3.30" fill="#666" textLength="64.80" lengthAdjust="spacingAndGlyphs">2.5-7.5: Day 100: 45.6% (95% CI 43.2%-70.3%)</text>
<line x1="422.30" y1="161.90" x2="427.90" y2="161.90" stroke="#1c1cc8" stroke-width="1.30"/>
<text x="429.60" y="163.10" font-family='"Liberation Sans", sans-serif' font-size="3.30" fill="#666" textLength="64.80" lengthAdjust="spacingAndGlyphs">7.5-10: Day 100: 71.7% (95% CI 63.5%-82.4%)</text>
<line x1="422.30" y1="165.40" x2="427.90" y2="165.40" stroke="#2fc42f" stroke-width="1.30"/>
<text x="429.60" y="166.60" font-family='"Liberation Sans", sans-serif' font-size="3.30" fill="#666" textLength="64.80" lengthAdjust="spacingAndGlyphs">&gt;10.0 :  Day 100: 81.8% (95% CI 73.6%-92.1%)</text>
<polyline points="64.8,114.8 65.7,114.8 65.7,112.2 66.5,112.2 66.5,109.5 66.9,109.5 66.9,107.6 67.2,107.6 67.2,105.6 67.6,105.6 67.6,103.7 68.0,103.7 68.0,101.8 68.4,101.8 68.4,99.9 68.8,99.9 68.8,98.0 69.9,98.0 69.9,96.2 71.1,96.2 71.1,94.5 71.9,94.5 71.9,92.2 72.8,92.2 72.8,90.0 73.4,90.0 73.4,88.2 74.0,88.2 74.0,86.5 74.5,86.5 74.5,84.2 75.1,84.2 75.1,81.9 75.5,81.9 75.5,79.6 75.9,79.6 75.9,77.3 76.3,77.3 76.3,75.0 77.3,75.0 77.3,72.1 79.2,72.1 79.2,70.8 85.6,70.8 85.8,70.8 85.8,68.5 86.0,68.5 86.0,66.1 86.2,66.1 86.2,63.8 88.2,63.8 88.2,60.6 88.6,60.6 88.6,58.7 89.0,58.7 89.0,56.8 89.4,56.8 89.4,54.9 90.1,54.9 90.1,53.0 90.7,53.0 90.7,51.0 91.3,51.0 91.3,49.1 92.0,49.1 92.0,47.2 94.5,47.2 94.5,47.0 97.1,47.0 97.1,46.7 100.8,46.7 101.3,46.7 101.3,44.3 101.9,44.3 101.9,41.9 103.5,41.9 103.5,39.3 103.5,37.3 135.7,37.3 135.7,32.4" fill="none" stroke="#111111" stroke-width="1.30"/>
<polyline points="63.0,114.8 63.9,114.8 63.9,112.2 64.8,112.2 64.8,109.5 65.3,109.5 65.3,107.2 65.9,107.2 65.9,104.9 66.8,104.9 66.8,102.3 67.6,102.3 67.6,99.7 69.4,99.7 69.4,96.8 70.0,96.8 70.0,94.5 70.5,94.5 70.5,92.2 70.9,92.2 70.9,90.3 71.3,90.3 71.3,88.4 71.7,88.4 71.7,86.5 72.2,86.5 72.2,84.2 72.8,84.2 72.8,81.9 73.7,81.9 73.7,79.6 74.5,79.6 74.5,77.3 75.0,77.3 75.0,74.7 75.4,74.7 75.4,72.1 75.6,72.1 75.6,70.0 75.8,70.0 75.8,67.8 76.0,67.8 76.0,65.7 78.0,65.7 78.0,64.4 79.2,64.4 79.2,62.5 80.5,62.5 80.5,60.6 83.0,60.6 83.0,57.4 85.0,57.4 85.0,56.8 86.9,56.8 86.9,56.1 89.4,56.1 89.4,54.9 92.0,54.9 92.0,54.5 99.5,54.5 100.0,54.5 100.0,52.5 102.2,52.5 102.2,52.3 104.4,52.3 104.4,52.2 106.6,52.2 106.6,52.0 106.6,49.6 119.6,49.6 119.6,47.2 144.4,47.2" fill="none" stroke="#d82424" stroke-width="1.30"/>
<polyline points="61.3,114.8 62.5,114.8 62.5,113.0 63.0,113.0 63.0,110.7 63.6,110.7 63.6,108.3 64.2,108.3 64.2,106.4 64.7,106.4 64.7,104.5 65.3,104.5 65.3,102.6 67.0,102.6 67.0,99.7 67.6,99.7 67.6,97.7 68.2,97.7 68.2,95.7 68.4,95.7 68.4,93.4 68.6,93.4 68.6,91.1 68.8,91.1 68.8,88.8 69.2,88.8 69.2,86.5 69.6,86.5 69.6,84.2 70.0,84.2 70.0,81.9 71.1,81.9 71.1,79.6 72.2,79.6 72.2,77.3 74.0,77.3 74.0,75.0 75.4,75.0 75.4,72.1 76.7,72.1 76.7,70.2 78.0,70.2 78.0,68.3 79.0,68.3 79.0,65.8 79.9,65.8 79.9,63.2 80.8,63.2 80.8,61.2 81.8,61.2 81.8,59.3 82.8,59.3 82.8,57.4 83.7,57.4 83.7,55.5 84.3,55.5 84.3,53.4 85.0,53.4 85.0,51.2 85.6,51.2 85.6,49.1 86.5,49.1 86.5,47.2 87.5,47.2 87.5,45.3 88.8,45.3 88.8,42.8 90.1,42.8 90.1,41.5 93.3,41.5 93.3,40.2" fill="none" stroke="#1c1cc8" stroke-width="1.30"/>
<polyline points="45.4,114.8 59.6,114.8 60.2,114.8 60.2,111.8 60.6,111.8 60.6,109.9 60.9,109.9 60.9,107.9 61.3,107.9 61.3,106.0 61.7,106.0 61.7,104.1 62.1,104.1 62.1,102.2 62.5,102.2 62.5,100.3 62.9,100.3 62.9,98.4 63.2,98.4 63.2,96.4 63.6,96.4 63.6,94.5 64.0,94.5 64.0,92.6 64.4,92.6 64.4,90.7 64.8,90.7 64.8,88.8 65.2,88.8 65.2,86.5 65.5,86.5 65.5,84.2 65.9,84.2 65.9,81.9 66.5,81.9 66.5,79.6 67.0,79.6 67.0,77.3 67.6,77.3 67.6,75.0 67.8,75.0 67.8,73.4 68.0,73.4 68.0,71.3 68.2,71.3 68.2,69.1 68.4,69.1 68.4,67.0 69.1,67.0 69.1,64.5 69.7,64.5 69.7,61.9 71.6,61.9 71.6,58.7 74.1,58.7 74.1,55.5 76.0,55.5 76.0,54.2 78.0,54.2 78.0,51.0 79.0,51.0 79.0,48.8 79.9,48.8 79.9,46.6 81.8,46.6 81.8,44.0 83.7,44.0 83.7,42.1 85.6,42.1 85.6,40.8 87.5,40.8 87.5,40.2 89.4,40.2 89.4,39.6 91.9,39.6 91.9,39.2 94.5,39.2 94.5,38.7 97.0,38.7 97.0,38.3 99.2,38.3 99.2,38.2 101.3,38.2 101.3,38.1 103.5,38.1 103.5,38.0 103.5,37.6 144.2,37.6" fill="none" stroke="#2fc42f" stroke-width="1.30"/>
<polyline points="187.7,114.8 189.6,114.8 189.6,112.1 190.6,112.1 190.6,110.2 191.5,110.2 191.5,108.3 192.8,108.3 192.8,105.8 194.0,105.8 194.0,103.2 195.0,103.2 195.0,100.6 196.0,100.6 196.0,98.0 196.6,98.0 196.6,96.1 197.2,96.1 197.2,94.2 197.8,94.2 197.8,92.1 198.5,92.1 198.5,90.0 199.1,90.0 199.1,87.9 199.5,87.9 199.5,85.8 200.0,85.8 200.0,83.6 200.4,83.6 200.4,81.5 200.6,81.5 200.6,79.4 200.8,79.4 200.8,77.2 201.0,77.2 201.0,75.1 204.2,75.1 204.2,73.8 205.5,73.8 205.5,72.0 208.0,72.0 208.0,68.8 209.9,68.8 209.9,67.2 211.9,67.2 211.9,65.6 214.4,65.6 214.4,62.4 215.1,62.4 215.1,60.1 215.7,60.1 215.7,57.7 216.4,57.7 216.4,55.4 218.3,55.4 218.3,54.1 220.2,54.1 220.2,53.9 222.1,53.9 222.1,53.7 224.0,53.7 224.0,53.5 226.0,53.5 226.0,51.5 228.5,51.5 228.5,48.2 230.5,48.2 230.5,45.0 232.0,45.0 232.0,44.1 244.1,44.1 244.1,41.6 260.7,41.6 260.7,38.8" fill="none" stroke="#111111" stroke-width="1.30"/>
<polyline points="185.7,114.8 186.7,114.8 186.7,112.8 187.7,112.8 187.7,110.8 188.3,110.8 188.3,108.7 189.0,108.7 189.0,106.5 189.6,106.5 189.6,104.4 190.4,104.4 190.4,102.3 191.3,102.3 191.3,100.1 192.1,100.1 192.1,98.0 192.5,98.0 192.5,95.5 193.0,95.5 193.0,92.9 193.4,92.9 193.4,90.4 194.0,90.4 194.0,87.9 194.7,87.9 194.7,85.3 195.3,85.3 195.3,82.8 195.9,82.8 195.9,80.7 196.6,80.7 196.6,78.5 197.2,78.5 197.2,76.4 197.8,76.4 197.8,74.3 198.5,74.3 198.5,72.1 199.1,72.1 199.1,70.0 199.1,68.8 199.8,68.8 199.8,66.2 200.4,66.2 200.4,63.7 203.0,63.7 203.0,61.8 205.5,61.8 205.5,58.6 206.8,58.6 206.8,56.0 208.0,56.0 208.0,53.5 209.3,53.5 209.3,51.6 210.6,51.6 210.6,49.7 212.5,49.7 212.5,47.1 213.8,47.1 213.8,45.2 216.1,45.2 216.1,44.5 218.3,44.5 218.3,43.9 220.2,43.9 220.2,43.3 222.1,43.3 222.1,42.7 225.3,42.7 225.3,41.6 269.6,41.6" fill="none" stroke="#d82424" stroke-width="1.30"/>
<polyline points="185.1,114.8 185.5,114.8 185.5,112.6 186.0,112.6 186.0,110.5 186.4,110.5 186.4,108.3 186.7,108.3 186.7,106.0 187.1,106.0 187.1,103.8 187.4,103.8 187.4,101.5 187.7,101.5 187.7,99.3 188.3,99.3 188.3,97.2 189.0,97.2 189.0,95.1 189.6,95.1 189.6,93.0 190.0,93.0 190.0,91.0 190.4,91.0 190.4,88.9 190.7,88.9 190.7,86.9 191.1,86.9 191.1,84.8 191.5,84.8 191.5,82.8 191.8,82.8 191.8,80.9 192.2,80.9 192.2,78.9 192.5,78.9 192.5,77.0 192.8,77.0 192.8,75.1 193.4,75.1 193.4,72.5 194.0,72.5 194.0,70.0 194.0,62.4 196.0,62.4 196.0,60.5 197.2,60.5 197.2,58.0 198.1,58.0 198.1,55.8 199.1,55.8 199.1,53.5 201.0,53.5 201.0,52.2 203.0,52.2 203.0,49.0 203.3,49.0 203.3,46.5 203.6,46.5 203.6,44.0 206.1,44.0 206.1,43.3 207.4,43.3 207.4,40.1 208.7,40.1 208.7,38.2 211.2,38.2 211.2,37.5 213.8,37.5 213.8,36.9 215.1,36.9 215.1,34.8 239.7,34.8" fill="none" stroke="#1c1cc8" stroke-width="1.30"/>
<polyline points="170.4,114.8 182.5,114.8 183.8,114.8 183.8,112.1 184.2,112.1 184.2,110.1 184.6,110.1 184.6,108.0 184.9,108.0 184.9,106.0 185.3,106.0 185.3,103.9 185.7,103.9 185.7,101.9 186.1,101.9 186.1,99.8 186.6,99.8 186.6,97.6 187.0,97.6 187.0,95.5 187.6,95.5 187.6,93.4 188.3,93.4 188.3,91.2 188.9,91.2 188.9,89.1 189.4,89.1 189.4,86.9 189.9,86.9 189.9,84.7 190.3,84.7 190.3,82.4 190.8,82.4 190.8,80.2 191.2,80.2 191.2,78.1 191.7,78.1 191.7,75.9 192.1,75.9 192.1,73.8 192.4,73.8 192.4,71.9 192.8,71.9 192.8,70.0 193.1,70.0 193.1,67.5 193.4,67.5 193.4,65.0 194.1,65.0 194.1,62.5 194.7,62.5 194.7,59.9 196.3,59.9 196.3,57.6 197.9,57.6 197.9,55.4 201.0,55.4 201.0,52.2 202.9,52.2 202.9,50.6 204.9,50.6 204.9,49.0 205.5,49.0 205.5,46.8 206.1,46.8 206.1,44.6 207.4,44.6 207.4,42.0 210.6,42.0 210.6,40.1 213.1,40.1 213.1,39.5 215.7,39.5 215.7,38.8 218.3,38.8 218.3,38.2 270.9,38.2" fill="none" stroke="#2fc42f" stroke-width="1.30"/>
<polyline points="312.8,114.8 313.8,114.8 313.8,112.2 314.7,112.2 314.7,109.5 315.1,109.5 315.1,107.4 315.5,107.4 315.5,105.3 315.9,105.3 315.9,103.2 316.9,103.2 316.9,100.6 317.9,100.6 317.9,98.0 318.5,98.0 318.5,95.5 319.1,95.5 319.1,93.0 319.7,93.0 319.7,90.9 320.4,90.9 320.4,88.7 321.0,88.7 321.0,86.6 322.0,86.6 322.0,84.0 323.0,84.0 323.0,81.5 323.9,81.5 323.9,79.0 324.9,79.0 324.9,76.4 325.4,76.4 325.4,74.5 326.0,74.5 326.0,72.6 328.6,72.6 328.6,72.0 330.5,72.0 330.5,68.8 331.8,68.8 331.8,66.9 333.1,66.9 333.1,65.0 334.7,65.0 334.7,63.1 336.3,63.1 336.3,61.2 337.6,61.2 337.6,59.2 338.8,59.2 338.8,57.3 339.8,57.3 339.8,55.4 340.7,55.4 340.7,53.5 343.3,53.5 343.3,51.6 345.9,51.6 345.9,51.3 348.4,51.3 348.4,51.0 350.5,51.0 350.5,49.0 352.5,49.0 352.5,46.5 355.7,46.5 355.7,44.3 369.1,44.3 369.1,42.2 386.0,42.2 386.0,40.3 394.6,40.3" fill="none" stroke="#111111" stroke-width="1.30"/>
<polyline points="310.8,114.8 311.5,114.8 311.5,112.6 312.1,112.6 312.1,110.5 312.8,110.5 312.8,108.3 314.1,108.3 314.1,105.8 315.3,105.8 315.3,103.2 315.8,103.2 315.8,101.3 316.2,101.3 316.2,99.3 316.7,99.3 316.7,97.4 317.2,97.4 317.2,95.5 317.8,95.5 317.8,93.4 318.5,93.4 318.5,91.2 319.1,91.2 319.1,89.1 320.1,89.1 320.1,86.5 321.0,86.5 321.0,84.0 322.0,84.0 322.0,81.5 323.0,81.5 323.0,79.0 323.4,79.0 323.4,77.0 323.8,77.0 323.8,75.0 324.2,75.0 324.2,73.0 324.6,73.0 324.6,70.8 325.0,70.8 325.0,68.5 325.4,68.5 325.4,66.3 327.3,66.3 327.3,64.4 329.2,64.4 329.2,61.2 331.8,61.2 331.8,58.6 333.1,58.6 333.1,56.7 334.3,56.7 334.3,54.8 335.3,54.8 335.3,52.5 336.3,52.5 336.3,50.3 337.5,50.3 337.5,47.1 338.1,47.1 338.1,45.2 338.8,45.2 338.8,43.3 340.7,43.3 340.7,42.7 343.3,42.7 343.3,42.0 345.4,42.0 345.4,41.9 347.5,41.9 347.5,41.8 349.6,41.8 349.6,41.6 351.8,41.6 351.8,41.5 353.9,41.5 353.9,41.4 356.0,41.4 356.0,41.3 364.0,41.3" fill="none" stroke="#d82424" stroke-width="1.30"/>
<polyline points="309.6,114.8 310.2,114.8 310.2,112.6 310.9,112.6 310.9,110.5 311.5,110.5 311.5,108.3 312.1,108.3 312.1,105.8 312.8,105.8 312.8,103.2 313.1,103.2 313.1,101.0 313.4,101.0 313.4,98.7 313.7,98.7 313.7,96.5 314.0,96.5 314.0,94.2 314.3,94.2 314.3,92.0 314.6,92.0 314.6,89.8 315.0,89.8 315.0,87.5 315.3,87.5 315.3,85.3 315.7,85.3 315.7,82.8 316.2,82.8 316.2,80.2 316.6,80.2 316.6,77.7 317.2,77.7 317.2,75.2 317.9,75.2 317.9,72.6 319.1,72.6 319.1,70.0 320.0,70.0 320.0,67.5 320.9,67.5 320.9,65.0 322.9,65.0 322.9,61.8 325.4,61.8 325.4,58.6 328.0,58.6 328.0,55.4 329.2,55.4 329.2,53.2 330.5,53.2 330.5,51.0 331.1,51.0 331.1,49.0 331.8,49.0 331.8,47.1 333.1,47.1 333.1,43.9 335.0,43.9 335.0,42.0 336.9,42.0 336.9,41.3 338.8,41.3 338.8,40.6 356.4,40.6 356.4,38.8 394.6,38.8" fill="none" stroke="#1c1cc8" stroke-width="1.30"/>
<polyline points="295.4,114.8 308.3,114.8 308.7,114.8 308.7,112.6 309.2,112.6 309.2,110.5 309.6,110.5 309.6,108.3 310.0,108.3 310.0,106.2 310.4,106.2 310.4,104.0 310.8,104.0 310.8,101.9 311.5,101.9 311.5,99.3 312.1,99.3 312.1,96.8 312.4,96.8 312.4,94.9 312.8,94.9 312.8,92.9 313.1,92.9 313.1,91.0 313.4,91.0 313.4,89.1 313.8,89.1 313.8,86.6 314.3,86.6 314.3,84.0 314.7,84.0 314.7,81.5 315.3,81.5 315.3,79.4 316.0,79.4 316.0,77.2 316.6,77.2 316.6,75.1 316.9,75.1 316.9,72.5 317.1,72.5 317.1,70.0 318.4,70.0 318.4,68.8 318.7,68.8 318.7,66.8 318.9,66.8 318.9,64.7 319.2,64.7 319.2,62.7 319.4,62.7 319.4,60.6 319.7,60.6 319.7,58.6 322.2,58.6 322.2,57.3 323.1,57.3 323.1,55.4 324.1,55.4 324.1,53.5 324.8,53.5 324.8,51.0 325.4,51.0 325.4,48.4 327.3,48.4 327.3,45.9 328.6,45.9 328.6,43.3 330.5,43.3 330.5,42.0 332.4,42.0 332.4,40.1 335.6,40.1 335.6,37.6 337.5,37.6 337.5,37.0 339.4,37.0 339.4,36.3 342.6,36.3 342.6,34.3 393.4,34.3" fill="none" stroke="#2fc42f" stroke-width="1.30"/>
<polyline points="439.0,114.8 439.9,114.8 439.9,112.8 440.9,112.8 440.9,110.8 442.2,110.8 442.2,108.3 444.1,108.3 444.1,107.9 446.0,107.9 446.0,107.6 448.0,107.6 448.0,105.1 448.4,105.1 448.4,103.2 448.8,103.2 448.8,101.2 449.2,101.2 449.2,99.3 449.6,99.3 449.6,97.2 450.1,97.2 450.1,95.1 450.5,95.1 450.5,93.0 451.4,93.0 451.4,91.0 452.4,91.0 452.4,89.1 453.7,89.1 453.7,86.5 455.0,86.5 455.0,84.0 455.9,84.0 455.9,82.1 456.9,82.1 456.9,80.2 457.5,80.2 457.5,77.7 458.2,77.7 458.2,75.1 458.8,75.1 458.8,72.5 459.4,72.5 459.4,70.0 461.9,70.0 461.9,67.5 462.9,67.5 462.9,65.6 463.8,65.6 463.8,63.7 465.1,63.7 465.1,61.5 466.4,61.5 466.4,59.3 468.3,59.3 468.3,56.1 470.8,56.1 470.8,55.9 473.2,55.9 473.2,55.8 475.7,55.8 475.7,55.6 476.7,55.6 476.7,53.4 477.7,53.4 477.7,51.1 478.9,51.1 478.9,49.2 480.2,49.2 480.2,47.3 482.5,47.3 482.5,47.2 484.8,47.2 484.8,47.2 487.1,47.2 487.1,47.1 489.4,47.1 489.4,47.1 491.7,47.1 491.7,47.0 494.0,47.0 494.0,47.0 494.9,47.0 494.9,44.8 519.5,44.8" fill="none" stroke="#111111" stroke-width="1.30"/>
<polyline points="437.8,114.8 438.3,114.8 438.3,112.8 438.8,112.8 438.8,110.9 439.2,110.9 439.2,109.0 439.7,109.0 439.7,107.0 440.3,107.0 440.3,104.9 441.0,104.9 441.0,102.7 441.6,102.7 441.6,100.6 442.0,100.6 442.0,98.5 442.5,98.5 442.5,96.3 442.9,96.3 442.9,94.2 443.3,94.2 443.3,92.1 443.7,92.1 443.7,90.0 444.1,90.0 444.1,87.9 444.6,87.9 444.6,86.0 445.1,86.0 445.1,84.1 445.5,84.1 445.5,82.1 446.0,82.1 446.0,80.2 446.9,80.2 446.9,78.3 447.9,78.3 447.9,76.5 449.1,76.5 449.1,75.2 451.0,75.2 451.0,72.6 452.3,72.6 452.3,70.0 453.6,70.0 453.6,67.5 454.9,67.5 454.9,64.4 455.9,64.4 455.9,62.5 456.8,62.5 456.8,60.5 459.3,60.5 459.3,57.3 460.3,57.3 460.3,55.1 461.3,55.1 461.3,52.9 463.2,52.9 463.2,50.3 466.4,50.3 466.4,47.8 469.5,47.8 469.5,45.9 472.1,45.9 472.1,45.2 474.5,45.2 474.5,43.9 510.8,43.9 510.8,41.0 519.5,41.0" fill="none" stroke="#d82424" stroke-width="1.30"/>
<polyline points="435.2,114.8 435.8,114.8 435.8,112.6 436.5,112.6 436.5,110.5 437.1,110.5 437.1,108.3 437.4,108.3 437.4,106.4 437.8,106.4 437.8,104.4 438.1,104.4 438.1,102.5 438.4,102.5 438.4,100.6 438.8,100.6 438.8,98.1 439.3,98.1 439.3,95.5 439.7,95.5 439.7,93.0 440.1,93.0 440.1,90.9 440.5,90.9 440.5,88.7 440.9,88.7 440.9,86.6 441.3,86.6 441.3,84.5 441.8,84.5 441.8,82.3 442.2,82.3 442.2,80.2 442.6,80.2 442.6,78.1 443.0,78.1 443.0,76.0 443.3,76.0 443.3,74.0 443.7,74.0 443.7,72.0 444.0,72.0 444.0,70.0 444.6,70.0 444.6,67.5 445.3,67.5 445.3,64.9 445.9,64.9 445.9,62.4 446.9,62.4 446.9,59.8 447.9,59.8 447.9,57.3 448.5,57.3 448.5,55.4 449.1,55.4 449.1,53.5 449.5,53.5 449.5,51.0 449.8,51.0 449.8,48.4 451.7,48.4 451.7,46.5 454.2,46.5 454.2,44.6 456.8,44.6 456.8,42.7 458.7,42.7 458.7,41.8 460.6,41.8 460.6,40.8 463.8,40.8 463.8,38.2 465.1,38.2 465.1,35.9 519.5,35.9" fill="none" stroke="#1c1cc8" stroke-width="1.30"/>
<polyline points="420.4,114.8 433.3,114.8 433.7,114.8 433.7,112.6 434.2,112.6 434.2,110.5 434.6,110.5 434.6,108.3 434.9,108.3 434.9,106.0 435.2,106.0 435.2,103.8 435.5,103.8 435.5,101.5 435.8,101.5 435.8,99.3 436.2,99.3 436.2,96.8 436.7,96.8 436.7,94.2 437.1,94.2 437.1,91.7 437.4,91.7 437.4,89.5 437.8,89.5 437.8,87.2 438.1,87.2 438.1,85.0 438.4,85.0 438.4,82.8 438.8,82.8 438.8,80.5 439.1,80.5 439.1,78.3 439.5,78.3 439.5,76.0 439.8,76.0 439.8,74.0 440.2,74.0 440.2,72.0 440.5,72.0 440.5,70.0 441.0,70.0 441.0,67.9 441.6,67.9 441.6,65.8 442.1,65.8 442.1,63.7 442.5,63.7 442.5,61.2 443.0,61.2 443.0,58.6 443.4,58.6 443.4,56.1 443.5,56.1 443.5,54.2 443.7,54.2 443.7,52.2 443.9,52.2 443.9,50.3 444.0,50.3 444.0,48.4 444.0,42.7 445.9,42.7 445.9,42.4 447.9,42.4 447.9,42.0 449.1,42.0 449.1,39.5 449.8,39.5 449.8,36.9 451.7,36.9 451.7,35.9 453.6,35.9 453.6,35.6 455.5,35.6 455.5,35.3 457.4,35.3 457.4,35.0" fill="none" stroke="#2fc42f" stroke-width="1.30"/>
<polyline points="50.7,242.0 77.5,242.0 77.5,227.7 82.0,227.7 82.5,227.7 82.5,225.4 82.9,225.4 82.9,223.2 84.7,223.2 84.7,222.3 86.4,222.3 86.4,221.4 95.0,221.4 95.5,221.4 95.5,219.4 96.0,219.4 96.0,217.5 106.6,217.5 107.0,217.5 107.0,215.2 107.5,215.2 107.5,212.9 108.0,212.9 108.0,210.2 108.4,210.2 108.4,207.5 111.1,207.5 111.1,205.7 113.8,205.7 113.8,203.9 114.7,203.9 114.7,201.2 115.5,201.2 115.5,198.6 135.2,198.6 136.1,198.6 136.1,195.9 137.0,195.9 137.0,193.2 137.4,193.2 137.4,191.4 137.9,191.4 137.9,189.6 139.7,189.6 139.7,188.8 141.4,188.8 141.4,187.9 144.1,187.9 144.1,187.0" fill="none" stroke="#111111" stroke-width="1.30"/>
<polyline points="59.6,242.0 61.4,242.0 61.4,241.1 63.2,241.1 63.2,240.2 64.6,240.2 64.6,238.4 65.9,238.4 65.9,236.6 68.2,236.6 68.2,235.7 70.4,235.7 70.4,234.8 71.3,234.8 71.3,232.7 72.1,232.7 72.1,230.7 73.0,230.7 73.0,228.6 73.5,228.6 73.5,226.5 74.1,226.5 74.1,224.3 74.6,224.3 74.6,222.2 75.2,222.2 75.2,220.0 75.7,220.0 75.7,217.9 78.4,217.9 78.4,215.2 79.8,215.2 79.8,213.4 81.1,213.4 81.1,211.6 83.8,211.6 83.8,208.9 85.5,208.9 85.5,207.6 87.3,207.6 87.3,206.3 89.1,206.3 89.1,204.9 90.9,204.9 90.9,203.6 92.7,203.6 92.7,202.7 94.5,202.7 94.5,201.8 96.2,201.8 96.2,200.0 98.0,200.0 98.0,198.2 99.5,198.2 99.5,196.8 101.8,196.8 101.8,196.4 104.1,196.4 104.1,196.1 106.4,196.1 106.4,195.7 108.7,195.7 108.7,195.4 111.0,195.4 111.0,195.0 113.2,195.0 113.2,194.6 115.5,194.6 115.5,194.1 117.8,194.1 117.8,193.6 120.0,193.6 120.0,193.2 122.1,193.2 122.1,192.6 124.2,192.6 124.2,192.0 126.3,192.0 126.3,191.4 128.7,191.4 128.7,190.8 131.2,190.8 131.2,190.1 133.6,190.1 133.6,189.5 136.0,189.5 136.0,188.8 137.8,188.8 137.8,187.9 139.6,187.9 139.6,187.0 144.1,187.0" fill="none" stroke="#d82424" stroke-width="1.30"/>
<polyline points="57.0,242.0 57.5,242.0 57.5,240.2 57.9,240.2 57.9,238.4 59.6,238.4 61.4,238.4 61.4,237.1 63.2,237.1 63.2,235.7 65.0,235.7 65.0,235.2 66.8,235.2 66.8,234.8 69.5,234.8 69.5,232.1 70.4,232.1 70.4,230.3 71.3,230.3 71.3,228.6 72.2,228.6 72.2,225.9 73.0,225.9 73.0,223.2 73.6,223.2 73.6,220.8 74.2,220.8 74.2,218.5 74.8,218.5 74.8,216.1 75.2,216.1 75.2,213.4 75.7,213.4 75.7,210.7 76.6,210.7 76.6,208.9 77.5,208.9 77.5,207.1 78.0,207.1 78.0,204.4 78.4,204.4 78.4,201.8 80.2,201.8 80.2,199.1 82.0,199.1 82.0,198.2 83.8,198.2 83.8,197.3 85.5,197.3 85.5,196.4 87.3,196.4 87.3,195.5 90.0,195.5 90.0,194.6 91.8,194.6 91.8,193.8 93.6,193.8 93.6,192.9 95.7,192.9 95.7,191.7 97.7,191.7 97.7,190.5 98.0,190.5 98.0,188.1 98.3,188.1 98.3,185.8 98.6,185.8 98.6,183.4 132.5,183.4 132.9,183.4 132.9,181.6 133.4,181.6 133.4,179.8 145.0,179.8" fill="none" stroke="#1c1cc8" stroke-width="1.30"/>
<polyline points="45.4,242.0 59.6,242.0 61.4,242.0 61.4,239.3 62.3,239.3 62.3,237.5 63.2,237.5 63.2,235.7 64.1,235.7 64.1,233.1 65.0,233.1 65.0,230.4 65.6,230.4 65.6,228.0 66.2,228.0 66.2,225.6 66.8,225.6 66.8,223.2 67.2,223.2 67.2,221.0 67.7,221.0 67.7,218.8 68.1,218.8 68.1,216.5 68.6,216.5 68.6,214.3 69.5,214.3 69.5,211.6 70.4,211.6 70.4,208.9 72.1,208.9 72.1,207.1 73.4,207.1 73.4,205.3 74.8,205.3 74.8,203.6 76.2,203.6 76.2,201.8 77.5,201.8 77.5,200.0 78.8,200.0 78.8,198.2 80.2,198.2 80.2,196.4 82.0,196.4 82.0,194.7 83.8,194.7 83.8,192.9 86.0,192.9 86.0,191.1 88.2,191.1 88.2,189.3 90.0,189.3 90.0,187.9 91.8,187.9 91.8,186.6 93.6,186.6 93.6,185.2 95.4,185.2 95.4,183.9 97.7,183.9 97.7,181.6 99.9,181.6 99.9,180.2 102.1,180.2 102.1,178.9 104.5,178.9 104.5,178.6 106.9,178.6 106.9,178.3 109.3,178.3 109.3,178.0 111.7,178.0 111.7,177.7 114.0,177.7 114.0,177.4 116.4,177.4 116.4,177.1 118.8,177.1 118.8,176.8 121.2,176.8 121.2,176.6 123.6,176.6 123.6,176.3 126.0,176.3 126.0,176.1 128.3,176.1 128.3,175.9 130.7,175.9 130.7,175.7 132.7,175.7 132.7,175.7 134.8,175.7 134.8,175.6 136.8,175.6 136.8,175.6 138.9,175.6 138.9,175.5 140.9,175.5 140.9,175.5 143.0,175.5 143.0,175.4 145.0,175.4 145.0,175.4" fill="none" stroke="#2fc42f" stroke-width="1.30"/>
<polyline points="190.0,242.0 191.8,242.0 191.8,241.1 193.6,241.1 193.6,240.2 195.3,240.2 195.3,238.4 197.1,238.4 197.1,236.6 197.8,236.6 197.8,234.6 198.4,234.6 198.4,232.6 199.1,232.6 199.1,230.6 199.8,230.6 199.8,228.6 200.7,228.6 200.7,226.2 201.6,226.2 201.6,223.8 202.5,223.8 202.5,221.4 204.3,221.4 204.3,218.8 206.1,218.8 206.1,217.9 207.9,217.9 207.9,217.0 208.8,217.0 208.8,215.2 209.6,215.2 209.6,213.4 219.0,213.4 220.8,213.4 220.8,212.4 222.5,212.4 222.5,211.5 224.6,211.5 224.6,211.2 226.6,211.2 226.6,211.0 228.6,211.0 228.6,210.8 230.7,210.8 230.7,210.5 232.5,210.5 232.5,209.6 234.3,209.6 234.3,208.8 236.1,208.8 236.1,207.4 237.9,207.4 237.9,206.1 239.7,206.1 239.7,205.2 241.4,205.2 241.4,204.3 243.4,204.3 243.4,203.9 245.4,203.9 245.4,203.4 247.5,203.4 247.5,202.9 249.5,202.9 249.5,202.5 251.5,202.5 251.5,202.1 253.5,202.1 253.5,201.6 255.5,201.6 255.5,201.1 257.5,201.1 257.5,200.7 259.2,200.7 259.2,198.9 261.0,198.9 261.0,197.1 263.8,197.1 263.8,194.5 266.4,194.5 266.4,191.8 269.1,191.8" fill="none" stroke="#111111" stroke-width="1.30"/>
<polyline points="188.2,242.0 190.0,242.0 190.0,240.2 191.8,240.2 191.8,238.4 194.5,238.4 194.5,236.6 195.2,236.6 195.2,234.2 195.8,234.2 195.8,231.7 196.4,231.7 196.4,229.2 197.1,229.2 197.1,226.8 198.4,226.8 198.4,224.1 199.8,224.1 199.8,221.4 200.4,221.4 200.4,219.0 201.0,219.0 201.0,216.7 201.6,216.7 201.6,214.3 202.9,214.3 202.9,212.1 204.3,212.1 204.3,209.8 206.1,209.8 206.1,207.2 207.9,207.2 207.9,204.5 210.1,204.5 210.1,203.2 212.3,203.2 212.3,201.8 214.6,201.8 214.6,200.4 216.8,200.4 216.8,199.1 218.6,199.1 218.6,197.8 220.4,197.8 220.4,196.4 221.4,196.4 221.4,194.7 222.5,194.7 222.5,193.0 224.0,193.0 224.0,190.9 226.0,190.9 226.0,190.4 228.0,190.4 228.0,190.0 230.2,190.0 230.2,189.1 232.5,189.1 232.5,188.2 234.8,188.2 234.8,187.3 237.0,187.3 237.0,186.4 239.3,186.4 239.3,186.2 241.6,186.2 241.6,186.0 244.0,186.0 244.0,185.9 246.3,185.9 246.3,185.7 248.6,185.7 248.6,185.5 251.0,185.5 251.0,185.1 253.5,185.1 253.5,184.6 255.9,184.6 255.9,184.2 258.4,184.2 258.4,183.8 260.6,183.8 260.6,182.9 262.9,182.9 262.9,182.0 269.1,182.0" fill="none" stroke="#d82424" stroke-width="1.30"/>
<polyline points="182.0,239.3 184.1,239.3 184.1,239.0 186.1,239.0 186.1,238.7 188.2,238.7 188.2,238.4 188.9,238.4 188.9,236.4 189.6,236.4 189.6,234.4 190.2,234.4 190.2,232.4 190.9,232.4 190.9,230.4 191.6,230.4 191.6,228.2 192.2,228.2 192.2,225.9 192.9,225.9 192.9,223.7 193.6,223.7 193.6,221.4 194.2,221.4 194.2,219.0 194.8,219.0 194.8,216.7 195.4,216.7 195.4,214.3 196.0,214.3 196.0,212.2 196.5,212.2 196.5,210.1 197.1,210.1 197.1,208.0 198.2,208.0 198.2,205.7 199.3,205.7 199.3,203.4 200.3,203.4 200.3,201.0 201.4,201.0 201.4,198.7 202.5,198.7 202.5,196.4 204.2,196.4 204.2,195.5 206.0,195.5 206.0,194.6 207.8,194.6 207.8,193.8 209.6,193.8 209.6,192.9 211.4,192.9 211.4,192.0 213.2,192.0 213.2,191.1 215.0,191.1 215.0,188.4 216.8,188.4 216.8,185.7 217.9,185.7 217.9,183.3 219.0,183.3 219.0,181.0 221.0,181.0 221.0,179.3 223.6,179.3 223.6,177.5 261.0,177.5" fill="none" stroke="#1c1cc8" stroke-width="1.30"/>
<polyline points="170.4,242.0 183.8,242.0 184.6,242.0 184.6,239.8 185.5,239.8 185.5,237.5 186.8,237.5 186.8,234.8 188.2,234.8 188.2,232.1 189.6,232.1 189.6,229.4 190.9,229.4 190.9,226.8 191.5,226.8 191.5,224.4 192.1,224.4 192.1,222.0 192.7,222.0 192.7,219.6 193.3,219.6 193.3,217.2 193.9,217.2 193.9,214.9 194.5,214.9 194.5,212.5 195.4,212.5 195.4,210.7 196.3,210.7 196.3,208.9 198.0,208.9 198.0,207.1 199.3,207.1 199.3,205.3 200.7,205.3 200.7,203.6 201.6,203.6 201.6,200.9 202.5,200.9 202.5,198.2 205.2,198.2 205.2,195.5 207.0,195.5 207.0,194.2 208.8,194.2 208.8,192.9 210.5,192.9 210.5,192.4 212.3,192.4 212.3,192.0 213.7,192.0 213.7,190.2 215.0,190.2 215.0,188.4 216.3,188.4 216.3,186.2 217.7,186.2 217.7,183.9 220.4,183.9 220.4,181.3 223.6,181.3 223.6,180.2 225.8,180.2 225.8,178.8 228.0,178.8 228.0,177.5 230.0,177.5 230.0,177.1 232.0,177.1 232.0,176.8 233.9,176.8 233.9,176.4 235.9,176.4 235.9,176.1 237.9,176.1 237.9,175.7 240.1,175.7 240.1,175.2 242.4,175.2 242.4,174.8 244.6,174.8 244.6,174.3 246.8,174.3 246.8,173.9 248.6,173.9 248.6,173.2 250.4,173.2 250.4,172.5 271.8,172.5" fill="none" stroke="#2fc42f" stroke-width="1.30"/>
<polyline points="313.2,242.0 315.0,242.0 315.0,240.2 316.8,240.2 316.8,238.4 317.7,238.4 317.7,236.3 318.6,236.3 318.6,234.2 319.5,234.2 319.5,232.1 320.4,232.1 320.4,229.7 321.2,229.7 321.2,227.4 322.1,227.4 322.1,225.0 323.3,225.0 323.3,222.9 324.5,222.9 324.5,220.8 325.7,220.8 325.7,218.8 327.0,218.8 327.0,216.5 328.4,216.5 328.4,214.3 330.6,214.3 330.6,212.9 332.9,212.9 332.9,211.6 335.5,211.6 335.5,211.1 338.2,211.1 338.2,210.7 340.0,210.7 340.0,210.2 341.8,210.2 341.8,209.8 343.6,209.8 343.6,209.2 345.4,209.2 345.4,208.5 348.0,208.5 348.0,207.0 350.1,207.0 350.1,206.1 352.2,206.1 352.2,205.2 354.3,205.2 354.3,204.3 356.1,204.3 356.1,203.4 357.9,203.4 357.9,202.5 360.3,202.5 360.3,201.6 362.6,201.6 362.6,200.7 365.0,200.7 365.0,199.8 367.7,199.8 367.7,199.4 370.4,199.4 370.4,198.9 373.0,198.9 373.0,198.4 375.7,198.4 375.7,198.0 378.4,198.0 378.4,197.6 381.1,197.6 381.1,197.1 382.9,197.1 382.9,195.3 384.6,195.3 384.6,193.6 386.0,193.6 386.0,191.8 387.3,191.8 387.3,190.0 390.0,190.0 390.0,187.3 392.2,187.3 392.2,186.9 394.5,186.9 394.5,186.4" fill="none" stroke="#111111" stroke-width="1.30"/>
<polyline points="311.4,242.0 313.2,242.0 313.2,241.6 315.0,241.6 315.0,241.1 315.9,241.1 315.9,238.4 316.8,238.4 316.8,235.7 317.7,235.7 317.7,233.3 318.6,233.3 318.6,231.0 319.5,231.0 319.5,228.6 320.4,228.6 320.4,226.2 321.2,226.2 321.2,223.8 322.1,223.8 322.1,221.4 323.5,221.4 323.5,218.8 324.8,218.8 324.8,216.1 326.1,216.1 326.1,214.3 327.5,214.3 327.5,212.5 329.3,212.5 329.3,211.2 331.1,211.2 331.1,209.8 332.9,209.8 332.9,209.4 334.6,209.4 334.6,208.9 335.1,208.9 335.1,206.9 335.5,206.9 335.5,204.9 335.9,204.9 335.9,202.9 336.4,202.9 336.4,200.9 338.2,200.9 338.2,198.2 348.9,198.2 349.1,198.2 349.1,195.9 349.4,195.9 349.4,193.6 349.6,193.6 349.6,191.4 349.8,191.4 349.8,189.1 351.6,189.1 351.6,186.4 353.6,186.4 353.6,186.2 355.6,186.2 355.6,185.9 357.6,185.9 357.6,185.7 359.6,185.7 359.6,185.5 361.4,185.5 361.4,182.9 363.5,182.9 363.5,182.6 365.6,182.6 365.6,182.3 367.7,182.3 367.7,182.0 369.5,182.0 369.5,180.2 371.8,180.2 371.8,178.6 374.0,178.6 374.0,177.1 394.5,177.1" fill="none" stroke="#d82424" stroke-width="1.30"/>
<polyline points="309.6,241.1 311.4,241.1 311.4,239.8 313.2,239.8 313.2,238.4 314.1,238.4 314.1,236.3 315.0,236.3 315.0,234.2 315.9,234.2 315.9,232.1 316.8,232.1 316.8,229.7 317.7,229.7 317.7,227.4 318.6,227.4 318.6,225.0 319.5,225.0 319.5,222.6 320.4,222.6 320.4,220.3 321.2,220.3 321.2,217.9 322.1,217.9 322.1,215.5 323.0,215.5 323.0,213.1 323.9,213.1 323.9,210.7 324.8,210.7 324.8,208.3 325.7,208.3 325.7,206.0 326.6,206.0 326.6,203.6 328.0,203.6 328.0,200.9 329.3,200.9 329.3,198.2 331.1,198.2 331.1,196.4 332.9,196.4 332.9,194.6 334.6,194.6 334.6,193.3 336.4,193.3 336.4,192.0 338.2,192.0 338.2,190.5 340.0,190.5 340.0,189.0 342.7,189.0 342.7,186.8 345.4,186.8 345.4,184.6 348.0,184.6 348.0,182.0 350.0,182.0 350.0,181.6 352.1,181.6 352.1,181.1 354.1,181.1 354.1,180.6 356.1,180.6 356.1,180.2 358.2,180.2 358.2,179.9 360.4,179.9 360.4,179.7 362.5,179.7 362.5,179.4 364.7,179.4 364.7,179.2 366.8,179.2 366.8,178.9 369.2,178.9 369.2,178.7 371.6,178.7 371.6,178.6 374.0,178.6 374.0,178.4 394.5,178.4" fill="none" stroke="#1c1cc8" stroke-width="1.30"/>
<polyline points="295.4,242.0 307.9,242.0 308.5,242.0 308.5,239.9 309.0,239.9 309.0,237.8 309.6,237.8 309.6,235.7 311.0,235.7 311.0,233.1 312.3,233.1 312.3,230.4 313.2,230.4 313.2,228.6 314.1,228.6 314.1,226.8 315.5,226.8 315.5,224.6 316.8,224.6 316.8,222.3 317.7,222.3 317.7,220.2 318.6,220.2 318.6,218.2 319.5,218.2 319.5,216.1 320.8,216.1 320.8,213.8 322.1,213.8 322.1,211.6 323.5,211.6 323.5,208.9 324.8,208.9 324.8,206.2 325.7,206.2 325.7,204.2 326.6,204.2 326.6,202.1 327.5,202.1 327.5,200.0 328.1,200.0 328.1,197.9 328.7,197.9 328.7,195.8 329.3,195.8 329.3,193.8 331.1,193.8 331.1,192.9 332.9,192.9 332.9,192.0 334.6,192.0 334.6,191.1 336.4,191.1 336.4,190.2 337.8,190.2 337.8,188.4 339.1,188.4 339.1,186.6 340.9,186.6 340.9,184.8 342.7,184.8 342.7,182.9 344.9,182.9 344.9,181.6 347.1,181.6 347.1,180.2 349.4,180.2 349.4,179.5 351.6,179.5 351.6,178.8 353.9,178.8 353.9,178.2 356.1,178.2 356.1,177.5 358.6,177.5 358.6,176.8 361.0,176.8 361.0,176.2 363.4,176.2 363.4,175.5 365.9,175.5 365.9,174.8 394.5,174.8" fill="none" stroke="#2fc42f" stroke-width="1.30"/>
<polyline points="434.6,242.0 450.7,242.0 451.6,242.0 451.6,239.3 452.5,239.3 452.5,236.6 453.4,236.6 453.4,234.5 454.3,234.5 454.3,232.5 455.2,232.5 455.2,230.4 456.5,230.4 456.5,228.6 457.9,228.6 457.9,226.8 459.6,226.8 459.6,225.9 461.4,225.9 461.4,225.0 464.1,225.0 464.1,224.6 466.8,224.6 466.8,224.1 468.6,224.1 468.6,223.6 470.4,223.6 470.4,223.2 472.4,223.2 472.4,222.4 474.3,222.4 474.3,221.6 476.5,221.6 476.5,220.9 478.8,220.9 478.8,220.2 481.0,220.2 481.0,219.6 483.2,219.6 483.2,218.9 485.9,218.9 485.9,217.2 488.6,217.2 488.6,215.4 490.8,215.4 490.8,214.1 493.0,214.1 493.0,212.7 495.1,212.7 495.1,212.1 497.2,212.1 497.2,211.5 499.3,211.5 499.3,210.9 502.0,210.9 502.0,209.6 504.6,209.6 504.6,208.2 506.4,208.2 506.4,207.3 508.2,207.3 508.2,206.4 510.0,206.4 510.0,204.7 511.8,204.7 511.8,202.9 513.6,202.9 513.6,201.6 515.4,201.6 515.4,200.2 519.5,200.2" fill="none" stroke="#111111" stroke-width="1.30"/>
<polyline points="440.9,242.0 441.8,242.0 441.8,239.3 442.7,239.3 442.7,236.6 443.3,236.6 443.3,234.5 443.9,234.5 443.9,232.5 444.5,232.5 444.5,230.4 445.4,230.4 445.4,228.0 446.2,228.0 446.2,225.6 447.1,225.6 447.1,223.2 448.9,223.2 448.9,221.4 450.7,221.4 450.7,219.6 452.9,219.6 452.9,218.3 455.2,218.3 455.2,217.0 457.4,217.0 457.4,215.7 459.6,215.7 459.6,214.3 461.6,214.3 461.6,213.1 463.6,213.1 463.6,211.8 464.9,211.8 464.9,209.6 466.2,209.6 466.2,207.3 468.0,207.3 468.0,205.1 469.8,205.1 469.8,202.9 471.6,202.9 471.6,200.7 473.4,200.7 473.4,198.4 475.2,198.4 475.2,195.7 477.6,195.7 477.6,195.1 479.9,195.1 479.9,194.5 482.3,194.5 482.3,193.9 484.5,193.9 484.5,193.6 486.6,193.6 486.6,193.4 488.8,193.4 488.8,193.1 491.0,193.1 491.0,192.9 493.2,192.9 493.2,192.6 495.3,192.6 495.3,192.4 497.5,192.4 497.5,192.1 500.2,192.1 500.2,191.2 502.9,191.2 502.9,190.4 505.0,190.4 505.0,190.1 507.0,190.1 507.0,189.8 509.1,189.8 509.1,189.5 511.8,189.5 511.8,186.8" fill="none" stroke="#d82424" stroke-width="1.30"/>
<polyline points="434.6,241.1 436.0,241.1 436.0,238.4 437.3,238.4 437.3,235.7 438.6,235.7 438.6,233.1 440.0,233.1 440.0,230.4 441.8,230.4 441.8,227.7 443.6,227.7 443.6,225.0 444.5,225.0 444.5,223.2 445.4,223.2 445.4,221.4 445.7,221.4 445.7,219.0 446.0,219.0 446.0,216.7 446.2,216.7 446.2,214.3 446.8,214.3 446.8,211.9 447.4,211.9 447.4,209.5 448.0,209.5 448.0,207.1 448.6,207.1 448.6,204.7 449.2,204.7 449.2,202.4 449.8,202.4 449.8,200.0 450.4,200.0 450.4,197.6 451.0,197.6 451.0,195.3 451.6,195.3 451.6,192.9 452.5,192.9 452.5,190.2 453.4,190.2 453.4,187.5 455.6,187.5 455.6,187.1 457.9,187.1 457.9,186.6 459.2,186.6 459.2,184.1 460.5,184.1 460.5,181.5 461.5,181.5 461.5,179.4 462.5,179.4 462.5,177.3 464.8,177.3 464.8,176.7 467.1,176.7 467.1,176.1 469.8,176.1 469.8,173.4 472.2,173.4 472.2,173.1 474.6,173.1 474.6,172.8 477.0,172.8 477.0,172.5 479.6,172.5 479.6,170.7 482.0,170.7 482.0,170.1 484.4,170.1 484.4,169.5 486.8,169.5 486.8,168.9 519.5,168.9" fill="none" stroke="#1c1cc8" stroke-width="1.30"/>
<polyline points="420.4,242.0 432.9,242.0 433.8,242.0 433.8,239.9 434.6,239.9 434.6,237.8 435.5,237.8 435.5,235.7 436.4,235.7 436.4,233.3 437.3,233.3 437.3,231.0 438.2,231.0 438.2,228.6 439.1,228.6 439.1,226.2 440.0,226.2 440.0,223.8 440.9,223.8 440.9,221.4 441.6,221.4 441.6,219.2 442.2,219.2 442.2,216.9 442.9,216.9 442.9,214.7 443.6,214.7 443.6,212.5 444.5,212.5 444.5,209.8 445.4,209.8 445.4,207.1 446.2,207.1 446.2,204.4 447.1,204.4 447.1,201.8 448.0,201.8 448.0,199.4 448.9,199.4 448.9,197.0 449.8,197.0 449.8,194.6 450.7,194.6 450.7,192.2 451.6,192.2 451.6,189.9 452.5,189.9 452.5,187.5 454.8,187.5 454.8,186.6 457.0,186.6 457.0,185.7 460.0,185.7 460.0,184.0 461.2,184.0 461.2,182.0 462.5,182.0 462.5,180.0 465.4,180.0 465.4,177.5 467.1,177.5 467.1,176.3 468.9,176.3 468.9,175.2 470.7,175.2 470.7,174.3 472.5,174.3 472.5,173.4 475.2,173.4 475.2,170.7 477.4,170.7 477.4,169.3 479.6,169.3 479.6,168.0 481.4,168.0 481.4,167.1 483.2,167.1 483.2,166.2" fill="none" stroke="#2fc42f" stroke-width="1.30"/>
<line x1="41.40" y1="274.50" x2="41.40" y2="373.60" stroke="#9a9a9a" stroke-width="0.70"/>
<line x1="40.40" y1="372.90" x2="41.40" y2="372.90" stroke="#9a9a9a" stroke-width="0.60"/>
<text x="38.30" y="374.20" font-family='"Liberation Sans", sans-serif' font-size="3.60" fill="#111" text-anchor="middle">0.0</text>
<line x1="40.40" y1="353.70" x2="41.40" y2="353.70" stroke="#9a9a9a" stroke-width="0.60"/>
<text x="38.30" y="355.00" font-family='"Liberation Sans", sans-serif' font-size="3.60" fill="#111" text-anchor="middle">0.2</text>
<line x1="40.40" y1="334.40" x2="41.40" y2="334.40" stroke="#9a9a9a" stroke-width="0.60"/>
<text x="38.30" y="335.70" font-family='"Liberation Sans", sans-serif' font-size="3.60" fill="#111" text-anchor="middle">0.4</text>
<line x1="40.40" y1="314.90" x2="41.40" y2="314.90" stroke="#9a9a9a" stroke-width="0.60"/>
<text x="38.30" y="316.20" font-family='"Liberation Sans", sans-serif' font-size="3.60" fill="#111" text-anchor="middle">0.6</text>
<line x1="40.40" y1="295.30" x2="41.40" y2="295.30" stroke="#9a9a9a" stroke-width="0.60"/>
<text x="38.30" y="296.60" font-family='"Liberation Sans", sans-serif' font-size="3.60" fill="#111" text-anchor="middle">0.8</text>
<line x1="40.40" y1="275.70" x2="41.40" y2="275.70" stroke="#9a9a9a" stroke-width="0.60"/>
<text x="38.30" y="277.00" font-family='"Liberation Sans", sans-serif' font-size="3.60" fill="#111" text-anchor="middle">1.0</text>
<text x="31.20" y="324.20" font-family='"Liberation Sans", sans-serif' font-size="4.70" fill="#444" text-anchor="middle" transform="rotate(-90.0 31.20 324.20)">Probability</text>
<line x1="41.40" y1="373.50" x2="138.32" y2="373.50" stroke="#9a9a9a" stroke-width="0.70"/>
<line x1="41.40" y1="373.50" x2="41.40" y2="374.60" stroke="#777" stroke-width="0.70"/>
<text x="41.40" y="379.00" font-family='"Liberation Sans", sans-serif' font-size="3.80" fill="#111" text-anchor="middle">0</text>
<line x1="50.12" y1="373.50" x2="50.12" y2="374.60" stroke="#777" stroke-width="0.70"/>
<text x="50.12" y="379.00" font-family='"Liberation Sans", sans-serif' font-size="3.80" fill="#111" text-anchor="middle">1</text>
<line x1="58.84" y1="373.50" x2="58.84" y2="374.60" stroke="#777" stroke-width="0.70"/>
<text x="58.84" y="379.00" font-family='"Liberation Sans", sans-serif' font-size="3.80" fill="#111" text-anchor="middle">2</text>
<line x1="67.56" y1="373.50" x2="67.56" y2="374.60" stroke="#777" stroke-width="0.70"/>
<text x="67.56" y="379.00" font-family='"Liberation Sans", sans-serif' font-size="3.80" fill="#111" text-anchor="middle">3</text>
<line x1="76.28" y1="373.50" x2="76.28" y2="374.60" stroke="#777" stroke-width="0.70"/>
<text x="76.28" y="379.00" font-family='"Liberation Sans", sans-serif' font-size="3.80" fill="#111" text-anchor="middle">4</text>
<line x1="85.00" y1="373.50" x2="85.00" y2="374.60" stroke="#777" stroke-width="0.70"/>
<text x="85.00" y="379.00" font-family='"Liberation Sans", sans-serif' font-size="3.80" fill="#111" text-anchor="middle">5</text>
<line x1="93.72" y1="373.50" x2="93.72" y2="374.60" stroke="#777" stroke-width="0.70"/>
<text x="93.72" y="379.00" font-family='"Liberation Sans", sans-serif' font-size="3.80" fill="#111" text-anchor="middle">6</text>
<line x1="102.44" y1="373.50" x2="102.44" y2="374.60" stroke="#777" stroke-width="0.70"/>
<text x="102.44" y="379.00" font-family='"Liberation Sans", sans-serif' font-size="3.80" fill="#111" text-anchor="middle">7</text>
<line x1="111.16" y1="373.50" x2="111.16" y2="374.60" stroke="#777" stroke-width="0.70"/>
<text x="111.16" y="379.00" font-family='"Liberation Sans", sans-serif' font-size="3.80" fill="#111" text-anchor="middle">8</text>
<line x1="119.88" y1="373.50" x2="119.88" y2="374.60" stroke="#777" stroke-width="0.70"/>
<text x="119.88" y="379.00" font-family='"Liberation Sans", sans-serif' font-size="3.80" fill="#111" text-anchor="middle">9</text>
<line x1="128.60" y1="373.50" x2="128.60" y2="374.60" stroke="#777" stroke-width="0.70"/>
<text x="128.60" y="379.00" font-family='"Liberation Sans", sans-serif' font-size="3.80" fill="#111" text-anchor="middle">10</text>
<line x1="137.32" y1="373.50" x2="137.32" y2="374.60" stroke="#777" stroke-width="0.70"/>
<text x="137.32" y="379.00" font-family='"Liberation Sans", sans-serif' font-size="3.80" fill="#111" text-anchor="middle">11</text>
<text x="89.90" y="387.30" font-family='"Liberation Sans", sans-serif' font-size="4.60" fill="#222" text-anchor="middle" textLength="42.00" lengthAdjust="spacingAndGlyphs">Years After Transplant</text>
<text x="35.70" y="391.10" font-family='"Liberation Sans", sans-serif' font-size="11.60" fill="#000" font-weight="bold">I</text>
<text x="96.10" y="298.80" font-family='"Liberation Sans", sans-serif' font-size="6.25" font-weight="bold" fill="#2a2aa8"><tspan font-style="italic">P</tspan> = .46</text>
<line x1="41.70" y1="356.10" x2="50.10" y2="356.10" stroke="#111111" stroke-width="1.80"/>
<text x="51.20" y="357.30" font-family='"Liberation Sans", sans-serif' font-size="3.30" fill="#777" textLength="71.50" lengthAdjust="spacingAndGlyphs">1.2-2.9 : At 1 Year: 49.6% (95% CI 37.5%-65.5%)</text>
<line x1="41.70" y1="360.60" x2="50.10" y2="360.60" stroke="#d82424" stroke-width="1.80"/>
<text x="51.20" y="361.80" font-family='"Liberation Sans", sans-serif' font-size="3.30" fill="#777" textLength="71.50" lengthAdjust="spacingAndGlyphs">3.0-7.5: At 1 Year: 54.7% (95% CI 43.6%-69.0%)</text>
<line x1="41.70" y1="365.10" x2="50.10" y2="365.10" stroke="#1c1cc8" stroke-width="1.80"/>
<text x="51.20" y="366.30" font-family='"Liberation Sans", sans-serif' font-size="3.30" fill="#777" textLength="71.50" lengthAdjust="spacingAndGlyphs">7.5-10: At 1 Year: 73.4% (95% CI 58.3%-83.3%)</text>
<line x1="41.70" y1="369.60" x2="50.10" y2="369.60" stroke="#1f7a2a" stroke-width="1.80"/>
<text x="51.20" y="370.80" font-family='"Liberation Sans", sans-serif' font-size="3.30" fill="#777" textLength="71.50" lengthAdjust="spacingAndGlyphs">10.0 - : At 1 Year: 79.4% (95% CI 69.4%-91.0%)</text>
<line x1="166.60" y1="274.50" x2="166.60" y2="373.60" stroke="#9a9a9a" stroke-width="0.70"/>
<line x1="165.60" y1="372.90" x2="166.60" y2="372.90" stroke="#9a9a9a" stroke-width="0.60"/>
<text x="163.50" y="374.20" font-family='"Liberation Sans", sans-serif' font-size="3.60" fill="#111" text-anchor="middle">0.0</text>
<line x1="165.60" y1="353.70" x2="166.60" y2="353.70" stroke="#9a9a9a" stroke-width="0.60"/>
<text x="163.50" y="355.00" font-family='"Liberation Sans", sans-serif' font-size="3.60" fill="#111" text-anchor="middle">0.2</text>
<line x1="165.60" y1="334.40" x2="166.60" y2="334.40" stroke="#9a9a9a" stroke-width="0.60"/>
<text x="163.50" y="335.70" font-family='"Liberation Sans", sans-serif' font-size="3.60" fill="#111" text-anchor="middle">0.4</text>
<line x1="165.60" y1="314.90" x2="166.60" y2="314.90" stroke="#9a9a9a" stroke-width="0.60"/>
<text x="163.50" y="316.20" font-family='"Liberation Sans", sans-serif' font-size="3.60" fill="#111" text-anchor="middle">0.6</text>
<line x1="165.60" y1="295.30" x2="166.60" y2="295.30" stroke="#9a9a9a" stroke-width="0.60"/>
<text x="163.50" y="296.60" font-family='"Liberation Sans", sans-serif' font-size="3.60" fill="#111" text-anchor="middle">0.8</text>
<line x1="165.60" y1="275.70" x2="166.60" y2="275.70" stroke="#9a9a9a" stroke-width="0.60"/>
<text x="163.50" y="277.00" font-family='"Liberation Sans", sans-serif' font-size="3.60" fill="#111" text-anchor="middle">1.0</text>
<text x="156.40" y="324.20" font-family='"Liberation Sans", sans-serif' font-size="4.70" fill="#444" text-anchor="middle" transform="rotate(-90.0 156.40 324.20)">Probability</text>
<line x1="166.60" y1="373.50" x2="263.52" y2="373.50" stroke="#9a9a9a" stroke-width="0.70"/>
<line x1="166.60" y1="373.50" x2="166.60" y2="374.60" stroke="#777" stroke-width="0.70"/>
<text x="166.60" y="379.00" font-family='"Liberation Sans", sans-serif' font-size="3.80" fill="#111" text-anchor="middle">0</text>
<line x1="175.32" y1="373.50" x2="175.32" y2="374.60" stroke="#777" stroke-width="0.70"/>
<text x="175.32" y="379.00" font-family='"Liberation Sans", sans-serif' font-size="3.80" fill="#111" text-anchor="middle">1</text>
<line x1="184.04" y1="373.50" x2="184.04" y2="374.60" stroke="#777" stroke-width="0.70"/>
<text x="184.04" y="379.00" font-family='"Liberation Sans", sans-serif' font-size="3.80" fill="#111" text-anchor="middle">2</text>
<line x1="192.76" y1="373.50" x2="192.76" y2="374.60" stroke="#777" stroke-width="0.70"/>
<text x="192.76" y="379.00" font-family='"Liberation Sans", sans-serif' font-size="3.80" fill="#111" text-anchor="middle">3</text>
<line x1="201.48" y1="373.50" x2="201.48" y2="374.60" stroke="#777" stroke-width="0.70"/>
<text x="201.48" y="379.00" font-family='"Liberation Sans", sans-serif' font-size="3.80" fill="#111" text-anchor="middle">4</text>
<line x1="210.20" y1="373.50" x2="210.20" y2="374.60" stroke="#777" stroke-width="0.70"/>
<text x="210.20" y="379.00" font-family='"Liberation Sans", sans-serif' font-size="3.80" fill="#111" text-anchor="middle">5</text>
<line x1="218.92" y1="373.50" x2="218.92" y2="374.60" stroke="#777" stroke-width="0.70"/>
<text x="218.92" y="379.00" font-family='"Liberation Sans", sans-serif' font-size="3.80" fill="#111" text-anchor="middle">6</text>
<line x1="227.64" y1="373.50" x2="227.64" y2="374.60" stroke="#777" stroke-width="0.70"/>
<text x="227.64" y="379.00" font-family='"Liberation Sans", sans-serif' font-size="3.80" fill="#111" text-anchor="middle">7</text>
<line x1="236.36" y1="373.50" x2="236.36" y2="374.60" stroke="#777" stroke-width="0.70"/>
<text x="236.36" y="379.00" font-family='"Liberation Sans", sans-serif' font-size="3.80" fill="#111" text-anchor="middle">8</text>
<line x1="245.08" y1="373.50" x2="245.08" y2="374.60" stroke="#777" stroke-width="0.70"/>
<text x="245.08" y="379.00" font-family='"Liberation Sans", sans-serif' font-size="3.80" fill="#111" text-anchor="middle">9</text>
<line x1="253.80" y1="373.50" x2="253.80" y2="374.60" stroke="#777" stroke-width="0.70"/>
<text x="253.80" y="379.00" font-family='"Liberation Sans", sans-serif' font-size="3.80" fill="#111" text-anchor="middle">10</text>
<line x1="262.52" y1="373.50" x2="262.52" y2="374.60" stroke="#777" stroke-width="0.70"/>
<text x="262.52" y="379.00" font-family='"Liberation Sans", sans-serif' font-size="3.80" fill="#111" text-anchor="middle">11</text>
<text x="216.70" y="387.30" font-family='"Liberation Sans", sans-serif' font-size="4.60" fill="#222" text-anchor="middle" textLength="42.00" lengthAdjust="spacingAndGlyphs">Years After Transplant</text>
<text x="159.30" y="391.10" font-family='"Liberation Sans", sans-serif' font-size="11.60" fill="#000" font-weight="bold">J</text>
<text x="221.00" y="298.80" font-family='"Liberation Sans", sans-serif' font-size="6.25" font-weight="bold" fill="#2a2aa8"><tspan font-style="italic">P</tspan> = .39</text>
<line x1="166.90" y1="356.10" x2="175.30" y2="356.10" stroke="#111111" stroke-width="1.80"/>
<text x="176.40" y="357.30" font-family='"Liberation Sans", sans-serif' font-size="3.30" fill="#777" textLength="70.50" lengthAdjust="spacingAndGlyphs">1.2-2.9 : At 1 Year: 49.6% (95% CI 37.5%-65.5%)</text>
<line x1="166.90" y1="360.60" x2="175.30" y2="360.60" stroke="#d82424" stroke-width="1.80"/>
<text x="176.40" y="361.80" font-family='"Liberation Sans", sans-serif' font-size="3.30" fill="#777" textLength="70.50" lengthAdjust="spacingAndGlyphs">3.0-7.5: At 1 Year: 54.7% (95% CI 43.6%-69.0%)</text>
<line x1="166.90" y1="365.10" x2="175.30" y2="365.10" stroke="#1c1cc8" stroke-width="1.80"/>
<text x="176.40" y="366.30" font-family='"Liberation Sans", sans-serif' font-size="3.30" fill="#777" textLength="70.50" lengthAdjust="spacingAndGlyphs">7.5-10: At 1 Year: 73.4% (95% CI 58.3%-83.3%)</text>
<line x1="166.90" y1="369.60" x2="175.30" y2="369.60" stroke="#1f7a2a" stroke-width="1.80"/>
<text x="176.40" y="370.80" font-family='"Liberation Sans", sans-serif' font-size="3.30" fill="#777" textLength="70.50" lengthAdjust="spacingAndGlyphs">10.0 - : At 1 Year: 79.4% (95% CI 69.4%-91.0%)</text>
<line x1="291.70" y1="274.50" x2="291.70" y2="373.60" stroke="#9a9a9a" stroke-width="0.70"/>
<line x1="290.70" y1="372.90" x2="291.70" y2="372.90" stroke="#9a9a9a" stroke-width="0.60"/>
<text x="288.60" y="374.20" font-family='"Liberation Sans", sans-serif' font-size="3.60" fill="#111" text-anchor="middle">0.0</text>
<line x1="290.70" y1="353.70" x2="291.70" y2="353.70" stroke="#9a9a9a" stroke-width="0.60"/>
<text x="288.60" y="355.00" font-family='"Liberation Sans", sans-serif' font-size="3.60" fill="#111" text-anchor="middle">0.2</text>
<line x1="290.70" y1="334.40" x2="291.70" y2="334.40" stroke="#9a9a9a" stroke-width="0.60"/>
<text x="288.60" y="335.70" font-family='"Liberation Sans", sans-serif' font-size="3.60" fill="#111" text-anchor="middle">0.4</text>
<line x1="290.70" y1="314.90" x2="291.70" y2="314.90" stroke="#9a9a9a" stroke-width="0.60"/>
<text x="288.60" y="316.20" font-family='"Liberation Sans", sans-serif' font-size="3.60" fill="#111" text-anchor="middle">0.6</text>
<line x1="290.70" y1="295.30" x2="291.70" y2="295.30" stroke="#9a9a9a" stroke-width="0.60"/>
<text x="288.60" y="296.60" font-family='"Liberation Sans", sans-serif' font-size="3.60" fill="#111" text-anchor="middle">0.8</text>
<line x1="290.70" y1="275.70" x2="291.70" y2="275.70" stroke="#9a9a9a" stroke-width="0.60"/>
<text x="288.60" y="277.00" font-family='"Liberation Sans", sans-serif' font-size="3.60" fill="#111" text-anchor="middle">1.0</text>
<text x="281.50" y="324.20" font-family='"Liberation Sans", sans-serif' font-size="4.70" fill="#444" text-anchor="middle" transform="rotate(-90.0 281.50 324.20)">Probability</text>
<line x1="291.70" y1="373.50" x2="388.62" y2="373.50" stroke="#9a9a9a" stroke-width="0.70"/>
<line x1="291.70" y1="373.50" x2="291.70" y2="374.60" stroke="#777" stroke-width="0.70"/>
<text x="291.70" y="379.00" font-family='"Liberation Sans", sans-serif' font-size="3.80" fill="#111" text-anchor="middle">0</text>
<line x1="300.42" y1="373.50" x2="300.42" y2="374.60" stroke="#777" stroke-width="0.70"/>
<text x="300.42" y="379.00" font-family='"Liberation Sans", sans-serif' font-size="3.80" fill="#111" text-anchor="middle">1</text>
<line x1="309.14" y1="373.50" x2="309.14" y2="374.60" stroke="#777" stroke-width="0.70"/>
<text x="309.14" y="379.00" font-family='"Liberation Sans", sans-serif' font-size="3.80" fill="#111" text-anchor="middle">2</text>
<line x1="317.86" y1="373.50" x2="317.86" y2="374.60" stroke="#777" stroke-width="0.70"/>
<text x="317.86" y="379.00" font-family='"Liberation Sans", sans-serif' font-size="3.80" fill="#111" text-anchor="middle">3</text>
<line x1="326.58" y1="373.50" x2="326.58" y2="374.60" stroke="#777" stroke-width="0.70"/>
<text x="326.58" y="379.00" font-family='"Liberation Sans", sans-serif' font-size="3.80" fill="#111" text-anchor="middle">4</text>
<line x1="335.30" y1="373.50" x2="335.30" y2="374.60" stroke="#777" stroke-width="0.70"/>
<text x="335.30" y="379.00" font-family='"Liberation Sans", sans-serif' font-size="3.80" fill="#111" text-anchor="middle">5</text>
<line x1="344.02" y1="373.50" x2="344.02" y2="374.60" stroke="#777" stroke-width="0.70"/>
<text x="344.02" y="379.00" font-family='"Liberation Sans", sans-serif' font-size="3.80" fill="#111" text-anchor="middle">6</text>
<line x1="352.74" y1="373.50" x2="352.74" y2="374.60" stroke="#777" stroke-width="0.70"/>
<text x="352.74" y="379.00" font-family='"Liberation Sans", sans-serif' font-size="3.80" fill="#111" text-anchor="middle">7</text>
<line x1="361.46" y1="373.50" x2="361.46" y2="374.60" stroke="#777" stroke-width="0.70"/>
<text x="361.46" y="379.00" font-family='"Liberation Sans", sans-serif' font-size="3.80" fill="#111" text-anchor="middle">8</text>
<line x1="370.18" y1="373.50" x2="370.18" y2="374.60" stroke="#777" stroke-width="0.70"/>
<text x="370.18" y="379.00" font-family='"Liberation Sans", sans-serif' font-size="3.80" fill="#111" text-anchor="middle">9</text>
<line x1="378.90" y1="373.50" x2="378.90" y2="374.60" stroke="#777" stroke-width="0.70"/>
<text x="378.90" y="379.00" font-family='"Liberation Sans", sans-serif' font-size="3.80" fill="#111" text-anchor="middle">10</text>
<line x1="387.62" y1="373.50" x2="387.62" y2="374.60" stroke="#777" stroke-width="0.70"/>
<text x="387.62" y="379.00" font-family='"Liberation Sans", sans-serif' font-size="3.80" fill="#111" text-anchor="middle">11</text>
<text x="339.70" y="387.30" font-family='"Liberation Sans", sans-serif' font-size="4.60" fill="#222" text-anchor="middle" textLength="42.00" lengthAdjust="spacingAndGlyphs">Years After Transplant</text>
<text x="349.00" y="277.80" font-family='"Liberation Sans", sans-serif' font-size="4.60" fill="#222" text-anchor="middle" textLength="41.50" lengthAdjust="spacingAndGlyphs">Years After Transplant</text>
<text x="284.70" y="391.10" font-family='"Liberation Sans", sans-serif' font-size="11.60" fill="#000" font-weight="bold">K</text>
<text x="342.00" y="298.80" font-family='"Liberation Sans", sans-serif' font-size="6.25" font-weight="bold" fill="#2a2aa8"><tspan font-style="italic">P</tspan> = .29</text>
<line x1="292.00" y1="356.10" x2="300.40" y2="356.10" stroke="#111111" stroke-width="1.80"/>
<text x="301.50" y="357.30" font-family='"Liberation Sans", sans-serif' font-size="3.30" fill="#777" textLength="70.50" lengthAdjust="spacingAndGlyphs">1.2-2.9 : At 1 Year: 49.6% (95% CI 37.5%-65.5%)</text>
<line x1="292.00" y1="360.60" x2="300.40" y2="360.60" stroke="#d82424" stroke-width="1.80"/>
<text x="301.50" y="361.80" font-family='"Liberation Sans", sans-serif' font-size="3.30" fill="#777" textLength="70.50" lengthAdjust="spacingAndGlyphs">3.0-7.5: At 1 Year: 54.7% (95% CI 43.6%-69.0%)</text>
<line x1="292.00" y1="365.10" x2="300.40" y2="365.10" stroke="#1c1cc8" stroke-width="1.80"/>
<text x="301.50" y="366.30" font-family='"Liberation Sans", sans-serif' font-size="3.30" fill="#777" textLength="70.50" lengthAdjust="spacingAndGlyphs">7.5-10: At 1 Year: 73.4% (95% CI 58.3%-83.3%)</text>
<line x1="292.00" y1="369.60" x2="300.40" y2="369.60" stroke="#1f7a2a" stroke-width="1.80"/>
<text x="301.50" y="370.80" font-family='"Liberation Sans", sans-serif' font-size="3.30" fill="#777" textLength="70.50" lengthAdjust="spacingAndGlyphs">10.0 - : At 1 Year: 79.4% (95% CI 69.4%-91.0%)</text>
<line x1="416.60" y1="274.50" x2="416.60" y2="373.60" stroke="#9a9a9a" stroke-width="0.70"/>
<line x1="415.60" y1="372.90" x2="416.60" y2="372.90" stroke="#9a9a9a" stroke-width="0.60"/>
<text x="413.50" y="374.20" font-family='"Liberation Sans", sans-serif' font-size="3.60" fill="#111" text-anchor="middle">0.0</text>
<line x1="415.60" y1="353.70" x2="416.60" y2="353.70" stroke="#9a9a9a" stroke-width="0.60"/>
<text x="413.50" y="355.00" font-family='"Liberation Sans", sans-serif' font-size="3.60" fill="#111" text-anchor="middle">0.2</text>
<line x1="415.60" y1="334.40" x2="416.60" y2="334.40" stroke="#9a9a9a" stroke-width="0.60"/>
<text x="413.50" y="335.70" font-family='"Liberation Sans", sans-serif' font-size="3.60" fill="#111" text-anchor="middle">0.4</text>
<line x1="415.60" y1="314.90" x2="416.60" y2="314.90" stroke="#9a9a9a" stroke-width="0.60"/>
<text x="413.50" y="316.20" font-family='"Liberation Sans", sans-serif' font-size="3.60" fill="#111" text-anchor="middle">0.6</text>
<line x1="415.60" y1="295.30" x2="416.60" y2="295.30" stroke="#9a9a9a" stroke-width="0.60"/>
<text x="413.50" y="296.60" font-family='"Liberation Sans", sans-serif' font-size="3.60" fill="#111" text-anchor="middle">0.8</text>
<line x1="415.60" y1="275.70" x2="416.60" y2="275.70" stroke="#9a9a9a" stroke-width="0.60"/>
<text x="413.50" y="277.00" font-family='"Liberation Sans", sans-serif' font-size="3.60" fill="#111" text-anchor="middle">1.0</text>
<text x="406.40" y="324.20" font-family='"Liberation Sans", sans-serif' font-size="4.70" fill="#444" text-anchor="middle" transform="rotate(-90.0 406.40 324.20)">Probability</text>
<line x1="416.60" y1="373.50" x2="513.52" y2="373.50" stroke="#9a9a9a" stroke-width="0.70"/>
<line x1="416.60" y1="373.50" x2="416.60" y2="374.60" stroke="#777" stroke-width="0.70"/>
<text x="416.60" y="379.00" font-family='"Liberation Sans", sans-serif' font-size="3.80" fill="#111" text-anchor="middle">0</text>
<line x1="425.32" y1="373.50" x2="425.32" y2="374.60" stroke="#777" stroke-width="0.70"/>
<text x="425.32" y="379.00" font-family='"Liberation Sans", sans-serif' font-size="3.80" fill="#111" text-anchor="middle">1</text>
<line x1="434.04" y1="373.50" x2="434.04" y2="374.60" stroke="#777" stroke-width="0.70"/>
<text x="434.04" y="379.00" font-family='"Liberation Sans", sans-serif' font-size="3.80" fill="#111" text-anchor="middle">2</text>
<line x1="442.76" y1="373.50" x2="442.76" y2="374.60" stroke="#777" stroke-width="0.70"/>
<text x="442.76" y="379.00" font-family='"Liberation Sans", sans-serif' font-size="3.80" fill="#111" text-anchor="middle">3</text>
<line x1="451.48" y1="373.50" x2="451.48" y2="374.60" stroke="#777" stroke-width="0.70"/>
<text x="451.48" y="379.00" font-family='"Liberation Sans", sans-serif' font-size="3.80" fill="#111" text-anchor="middle">4</text>
<line x1="460.20" y1="373.50" x2="460.20" y2="374.60" stroke="#777" stroke-width="0.70"/>
<text x="460.20" y="379.00" font-family='"Liberation Sans", sans-serif' font-size="3.80" fill="#111" text-anchor="middle">5</text>
<line x1="468.92" y1="373.50" x2="468.92" y2="374.60" stroke="#777" stroke-width="0.70"/>
<text x="468.92" y="379.00" font-family='"Liberation Sans", sans-serif' font-size="3.80" fill="#111" text-anchor="middle">6</text>
<line x1="477.64" y1="373.50" x2="477.64" y2="374.60" stroke="#777" stroke-width="0.70"/>
<text x="477.64" y="379.00" font-family='"Liberation Sans", sans-serif' font-size="3.80" fill="#111" text-anchor="middle">7</text>
<line x1="486.36" y1="373.50" x2="486.36" y2="374.60" stroke="#777" stroke-width="0.70"/>
<text x="486.36" y="379.00" font-family='"Liberation Sans", sans-serif' font-size="3.80" fill="#111" text-anchor="middle">8</text>
<line x1="495.08" y1="373.50" x2="495.08" y2="374.60" stroke="#777" stroke-width="0.70"/>
<text x="495.08" y="379.00" font-family='"Liberation Sans", sans-serif' font-size="3.80" fill="#111" text-anchor="middle">9</text>
<line x1="503.80" y1="373.50" x2="503.80" y2="374.60" stroke="#777" stroke-width="0.70"/>
<text x="503.80" y="379.00" font-family='"Liberation Sans", sans-serif' font-size="3.80" fill="#111" text-anchor="middle">10</text>
<line x1="512.52" y1="373.50" x2="512.52" y2="374.60" stroke="#777" stroke-width="0.70"/>
<text x="512.52" y="379.00" font-family='"Liberation Sans", sans-serif' font-size="3.80" fill="#111" text-anchor="middle">11</text>
<text x="466.90" y="387.30" font-family='"Liberation Sans", sans-serif' font-size="4.60" fill="#222" text-anchor="middle" textLength="42.00" lengthAdjust="spacingAndGlyphs">Years After Transplant</text>
<text x="411.20" y="391.10" font-family='"Liberation Sans", sans-serif' font-size="11.60" fill="#000" font-weight="bold">L</text>
<text x="470.20" y="298.80" font-family='"Liberation Sans", sans-serif' font-size="6.25" font-weight="bold" fill="#2a2aa8"><tspan font-style="italic">P</tspan> = .01</text>
<line x1="416.90" y1="356.10" x2="425.30" y2="356.10" stroke="#111111" stroke-width="1.80"/>
<text x="426.40" y="357.30" font-family='"Liberation Sans", sans-serif' font-size="3.30" fill="#777" textLength="72.00" lengthAdjust="spacingAndGlyphs">1.2-2.9 : At 1 Year: 49.6% (95% CI 37.5%-65.5%)</text>
<line x1="416.90" y1="360.60" x2="425.30" y2="360.60" stroke="#d82424" stroke-width="1.80"/>
<text x="426.40" y="361.80" font-family='"Liberation Sans", sans-serif' font-size="3.30" fill="#777" textLength="72.00" lengthAdjust="spacingAndGlyphs">3.0-7.5: At 1 Year: 54.7% (95% CI 43.6%-69.0%)</text>
<line x1="416.90" y1="365.10" x2="425.30" y2="365.10" stroke="#1c1cc8" stroke-width="1.80"/>
<text x="426.40" y="366.30" font-family='"Liberation Sans", sans-serif' font-size="3.30" fill="#777" textLength="72.00" lengthAdjust="spacingAndGlyphs">7.5-10: At 1 Year: 73.4% (95% CI 58.3%-83.3%)</text>
<line x1="416.90" y1="369.60" x2="425.30" y2="369.60" stroke="#1f7a2a" stroke-width="1.80"/>
<text x="426.40" y="370.80" font-family='"Liberation Sans", sans-serif' font-size="3.30" fill="#777" textLength="72.00" lengthAdjust="spacingAndGlyphs">10.0 - : At 1 Year: 79.4% (95% CI 69.4%-91.0%)</text>
<polyline points="41.8,275.6 42.0,275.6 42.0,278.0 42.2,278.0 42.2,280.5 42.4,280.5 42.4,282.9 42.6,282.9 42.6,285.3 43.1,285.3 43.1,287.9 43.6,287.9 43.6,290.4 43.9,290.4 43.9,292.4 44.3,292.4 44.3,294.5 44.6,294.5 44.6,296.5 45.2,296.5 45.2,298.5 45.7,298.5 45.7,300.5 45.9,300.5 45.9,302.6 46.0,302.6 46.0,304.6 46.2,304.6 46.2,306.7 55.3,306.7 56.1,306.7 56.1,308.4 57.0,308.4 57.0,310.0 59.6,310.0 59.6,313.0 60.1,313.0 60.1,315.7 60.6,315.7 60.6,318.4 133.9,318.4" fill="none" stroke="#111111" stroke-width="1.55"/>
<polyline points="41.8,275.6 42.0,275.6 42.0,278.0 42.2,278.0 42.2,280.3 42.4,280.3 42.4,282.6 42.6,282.6 42.6,285.0 43.0,285.0 43.0,287.0 43.3,287.0 43.3,289.0 43.6,289.0 43.6,291.0 44.0,291.0 44.0,293.0 44.5,293.0 44.5,295.3 45.0,295.3 45.0,297.7 45.5,297.7 45.5,300.0 45.7,300.0 45.7,302.2 46.0,302.2 46.0,304.5 46.2,304.5 46.2,306.7 47.7,306.7 47.7,309.8 49.6,309.8 49.6,311.0 50.7,311.0 50.7,313.2 51.8,313.2 51.8,315.5 53.5,315.5 53.5,318.5 55.0,318.5 55.0,320.6 57.2,320.6 57.2,321.0 59.5,321.0 59.5,321.4 61.7,321.4 61.7,321.9 64.0,321.9 64.0,322.3 66.2,322.3 66.2,322.7 66.7,322.7 66.7,325.3 127.7,325.3" fill="none" stroke="#d82424" stroke-width="1.55"/>
<polyline points="41.8,275.6 42.0,275.6 42.0,278.0 42.2,278.0 42.2,280.3 42.4,280.3 42.4,282.6 42.6,282.6 42.6,285.0 42.9,285.0 42.9,287.3 43.2,287.3 43.2,289.6 43.5,289.6 43.5,291.9 43.8,291.9 43.8,294.2 44.1,294.2 44.1,296.5 45.7,296.5 45.7,299.6 48.2,299.6 48.2,301.1 50.6,301.1 50.6,301.3 52.9,301.3 52.9,301.4 55.3,301.4 55.3,301.6 55.6,301.6 55.6,303.6 55.9,303.6 55.9,305.7 56.5,305.7 56.5,308.9 57.6,308.9 57.6,311.4 59.6,311.4 59.6,313.0 73.4,313.0 73.7,313.0 73.7,315.5 73.9,315.5 73.9,318.0 113.4,318.0" fill="none" stroke="#1c1cc8" stroke-width="1.55"/>
<polyline points="41.8,275.6 42.2,275.6 42.2,277.9 42.5,277.9 42.5,280.3 42.9,280.3 42.9,282.6 43.2,282.6 43.2,285.0 43.6,285.0 43.6,287.3 44.4,287.3 44.4,289.4 45.1,289.4 45.1,291.4 45.9,291.4 45.9,293.9 46.7,293.9 46.7,296.5 48.2,296.5 48.2,298.5 51.3,298.5 51.3,299.6 54.3,299.6 54.3,300.6 55.0,300.6 55.0,301.2 56.0,301.2 56.0,302.2 58.1,302.2 58.1,302.8 60.4,302.8 60.4,303.6 62.7,303.6 62.7,304.3 65.0,304.3 65.0,304.6 67.2,304.6 67.2,304.8 69.5,304.8 69.5,305.1 71.8,305.1 71.8,305.3 72.9,305.3 72.9,306.8 75.2,306.8 75.2,307.6 77.4,307.6 77.4,308.4 79.5,308.4 79.5,309.9 82.0,309.9 82.0,312.2 102.2,312.2 102.2,317.6 133.9,317.6" fill="none" stroke="#1f7a2a" stroke-width="1.55"/>
<polyline points="41.8,275.6 42.0,275.6 42.0,278.0 42.2,278.0 42.2,280.5 42.4,280.5 42.4,282.9 42.6,282.9 42.6,285.3 43.1,285.3 43.1,287.9 43.6,287.9 43.6,290.4" fill="none" stroke="#111111" stroke-width="1.55"/>
<polyline points="167.1,275.6 167.3,275.6 167.3,278.1 167.4,278.1 167.4,280.7 167.6,280.7 167.6,283.2 167.9,283.2 167.9,285.2 168.3,285.2 168.3,287.3 168.6,287.3 168.6,289.3 168.8,289.3 168.8,291.4 168.9,291.4 168.9,293.4 169.1,293.4 169.1,295.5 170.1,295.5 170.1,298.5 170.6,298.5 170.6,300.6 171.2,300.6 171.2,302.6 172.7,302.6 172.7,305.2 174.2,305.2 174.2,306.2 175.0,306.2 175.0,307.2 177.1,307.2 177.1,309.2 179.1,309.2 179.1,311.3 180.3,311.3 180.3,313.1 181.6,313.1 181.6,314.9 183.1,314.9 183.1,316.5 184.7,316.5 184.7,318.2 258.8,318.2" fill="none" stroke="#111111" stroke-width="1.55"/>
<polyline points="167.1,275.6 167.3,275.6 167.3,278.1 167.4,278.1 167.4,280.7 167.6,280.7 167.6,283.2 167.9,283.2 167.9,285.2 168.3,285.2 168.3,287.3 168.6,287.3 168.6,289.3 168.8,289.3 168.8,291.4 168.9,291.4 168.9,293.4 169.1,293.4 169.1,295.5 170.1,295.5 170.1,298.5 170.6,298.5 170.6,300.6 171.2,300.6 171.2,302.6 172.7,302.6 172.7,305.2 174.2,305.2 174.2,306.2 175.0,306.2 175.0,307.8 178.1,307.8 178.1,309.3 179.1,309.3 179.1,311.1 180.1,311.1 180.1,312.9 182.1,312.9 182.1,315.4 185.2,315.4 185.2,316.9 191.3,316.9 191.8,316.9 191.8,319.5 198.0,319.5 198.2,319.5 198.2,321.6 198.5,321.6 198.5,323.8 229.7,323.8" fill="none" stroke="#d82424" stroke-width="1.55"/>
<polyline points="167.1,275.6 167.3,275.6 167.3,278.1 167.4,278.1 167.4,280.7 167.6,280.7 167.6,283.2 167.9,283.2 167.9,285.2 168.3,285.2 168.3,287.3 168.6,287.3 168.6,289.3 168.8,289.3 168.8,291.4 168.9,291.4 168.9,293.4 169.1,293.4 169.1,295.5 170.1,295.5 170.1,298.5 170.6,298.5 170.6,300.6 171.2,300.6 171.2,302.6 172.7,302.6 172.7,305.2 174.2,305.2 174.2,306.5 176.2,306.5 176.2,306.6 178.1,306.6 178.1,306.6 180.1,306.6 180.1,306.6 182.1,306.6 182.1,306.7 182.4,306.7 182.4,308.9 182.7,308.9 182.7,311.1 196.9,311.1 197.1,311.1 197.1,313.4 197.2,313.4 197.2,315.7 197.4,315.7 197.4,318.0 227.1,318.0 227.1,331.4 255.7,331.4" fill="none" stroke="#1c1cc8" stroke-width="1.55"/>
<polyline points="167.1,275.6 167.3,275.6 167.3,277.8 167.4,277.8 167.4,280.0 167.6,280.0 167.6,282.2 169.1,282.2 169.1,284.2 171.2,284.2 171.2,286.3 171.4,286.3 171.4,288.3 171.7,288.3 171.7,290.4 171.9,290.4 171.9,292.4 172.2,292.4 172.2,294.4 174.2,294.4 174.2,295.5 176.0,295.5 176.0,298.6 178.2,298.6 178.2,298.7 180.5,298.7 180.5,298.8 182.7,298.8 182.7,298.9 185.0,298.9 185.0,299.0 187.2,299.0 187.2,299.1 187.8,299.1 187.8,301.6 202.6,301.6 202.8,301.6 202.8,303.4 203.1,303.4 203.1,305.2 206.1,305.2 206.3,305.2 206.3,307.8 206.6,307.8 206.6,310.4 257.2,310.4" fill="none" stroke="#1f7a2a" stroke-width="1.55"/>
<polyline points="167.1,275.6 167.3,275.6 167.3,278.1 167.4,278.1 167.4,280.7 167.6,280.7 167.6,283.2 167.9,283.2 167.9,285.2 168.3,285.2 168.3,287.3 168.6,287.3 168.6,289.3" fill="none" stroke="#111111" stroke-width="1.55"/>
<polyline points="292.1,275.6 292.2,275.6 292.2,277.7 292.4,277.7 292.4,279.8 292.5,279.8 292.5,281.9 292.6,281.9 292.6,284.0 292.7,284.0 292.7,286.1 292.9,286.1 292.9,288.2 293.0,288.2 293.0,290.3 293.1,290.3 293.1,292.4 293.4,292.4 293.4,294.4 293.8,294.4 293.8,296.5 294.1,296.5 294.1,298.5 294.6,298.5 294.6,300.6 295.2,300.6 295.2,302.6 295.7,302.6 295.7,304.7 297.2,304.7 297.2,307.2 299.2,307.2 299.2,308.2 301.4,308.2 301.4,308.8 303.6,308.8 303.6,309.3 304.1,309.3 304.1,311.4 304.6,311.4 304.6,313.4 305.4,313.4 305.4,315.7 306.1,315.7 306.1,318.0 307.7,318.0 307.7,321.0 309.7,321.0 309.7,323.1 311.9,323.1 311.9,323.3 314.1,323.3 314.1,323.4 316.3,323.4 316.3,323.6 316.8,323.6 316.8,325.8 366.2,325.8" fill="none" stroke="#111111" stroke-width="1.55"/>
<polyline points="292.1,275.6 292.3,275.6 292.3,278.0 292.6,278.0 292.6,280.3 292.8,280.3 292.8,282.6 293.0,282.6 293.0,285.0 294.4,285.0 294.4,287.5 295.8,287.5 295.8,289.9 297.2,289.9 297.2,292.4 298.2,292.4 298.2,294.4 298.5,294.4 298.5,296.8 298.9,296.8 298.9,299.2 299.2,299.2 299.2,301.6 300.0,301.6 300.0,303.7 301.0,303.7 301.0,306.2 303.0,306.2 303.0,306.5 305.1,306.5 305.1,306.9 307.1,306.9 307.1,307.2 307.4,307.2 307.4,309.0 307.7,309.0 307.7,310.8 309.9,310.8 309.9,310.9 312.1,310.9 312.1,310.9 314.3,310.9 314.3,311.0 316.4,311.0 316.4,311.1 318.6,311.1 318.6,311.2 320.8,311.2 320.8,311.2 323.0,311.2 323.0,311.3 323.2,311.3 323.2,313.9 323.5,313.9 323.5,316.4 331.1,316.4 331.3,316.4 331.3,318.5 331.4,318.5 331.4,320.5 331.6,320.5 331.6,322.6 366.2,322.6" fill="none" stroke="#d82424" stroke-width="1.55"/>
<polyline points="292.1,275.6 292.2,275.6 292.2,277.7 292.4,277.7 292.4,279.8 292.5,279.8 292.5,281.9 292.7,281.9 292.7,284.1 292.8,284.1 292.8,286.2 293.0,286.2 293.0,288.3 293.1,288.3 293.1,290.4 294.6,290.4 294.6,289.3 295.7,289.3 295.7,290.4 295.9,290.4 295.9,292.8 296.0,292.8 296.0,295.1 296.2,295.1 296.2,297.5 296.7,297.5 296.7,300.1 297.2,300.1 297.2,302.6 299.3,302.6 299.3,302.6 301.3,302.6 301.3,302.6 303.4,302.6 303.4,302.6 305.5,302.6 305.5,302.7 307.6,302.7 307.6,302.7 309.6,302.7 309.6,302.7 311.7,302.7 311.7,302.7 311.9,302.7 311.9,304.4 312.2,304.4 312.2,306.0 314.4,306.0 314.4,306.0 316.6,306.0 316.6,306.0 318.8,306.0 318.8,306.0 321.0,306.0 321.0,306.0 323.2,306.0 323.2,306.0 325.4,306.0 325.4,306.0 327.6,306.0 327.6,306.0 329.8,306.0 329.8,306.0 332.0,306.0 332.0,306.1 334.3,306.1 334.3,306.1 336.5,306.1 336.5,306.1 338.7,306.1 338.7,306.1 340.9,306.1 340.9,306.1 343.1,306.1 343.1,306.1 345.3,306.1 345.3,306.1 347.5,306.1 347.5,306.1 349.7,306.1 349.7,306.1 351.9,306.1 351.9,306.1 351.9,328.6 359.9,328.6" fill="none" stroke="#1c1cc8" stroke-width="1.55"/>
<polyline points="292.1,275.6 292.2,275.6 292.2,277.8 292.4,277.8 292.4,279.9 292.5,279.9 292.5,282.1 292.6,282.1 292.6,284.2 293.1,284.2 293.1,286.8 293.6,286.8 293.6,289.3 295.1,289.3 295.1,290.4 296.2,290.4 296.2,293.4 298.2,293.4 298.2,295.5 299.2,295.5 299.2,297.5 300.8,297.5 300.8,300.0 302.9,300.0 302.9,300.0 305.0,300.0 305.0,300.0 307.1,300.0 307.1,300.0 309.2,300.0 309.2,300.0 311.4,300.0 311.4,300.1 313.5,300.1 313.5,300.1 315.6,300.1 315.6,300.1 317.7,300.1 317.7,300.1 319.8,300.1 319.8,300.1 321.9,300.1 321.9,300.1 322.1,300.1 322.1,302.4 322.4,302.4 322.4,304.7 327.0,304.7 327.3,304.7 327.3,307.0 327.6,307.0 327.6,309.3 329.8,309.3 329.8,309.3 331.9,309.3 331.9,309.3 334.1,309.3 334.1,309.3 336.3,309.3 336.3,309.3 338.4,309.3 338.4,309.3 340.6,309.3 340.6,309.3 342.8,309.3 342.8,309.3 345.0,309.3 345.0,309.3 347.1,309.3 347.1,309.3 349.3,309.3 349.3,309.3 351.5,309.3 351.5,309.3 353.6,309.3 353.6,309.3 355.8,309.3 355.8,309.4 358.0,309.4 358.0,309.4 360.1,309.4 360.1,309.4 362.3,309.4 362.3,309.4 364.5,309.4 364.5,309.4 366.6,309.4 366.6,309.4 368.8,309.4 368.8,309.4 371.0,309.4 371.0,309.4 373.2,309.4 373.2,309.4 375.3,309.4 375.3,309.4 377.5,309.4 377.5,309.4 379.7,309.4 379.7,309.4 381.8,309.4 381.8,309.4 384.0,309.4 384.0,309.4" fill="none" stroke="#1f7a2a" stroke-width="1.55"/>
<polyline points="292.1,275.6 292.2,275.6 292.2,277.7 292.4,277.7 292.4,279.8 292.5,279.8 292.5,281.9 292.6,281.9 292.6,284.0 292.7,284.0 292.7,286.1 292.9,286.1 292.9,288.2 293.0,288.2 293.0,290.3 293.1,290.3 293.1,292.4" fill="none" stroke="#111111" stroke-width="1.55"/>
<polyline points="417.1,275.6 417.3,275.6 417.3,277.7 417.4,277.7 417.4,279.8 417.6,279.8 417.6,282.0 417.8,282.0 417.8,284.1 417.9,284.1 417.9,286.2 418.1,286.2 418.1,288.3 418.4,288.3 418.4,290.7 418.8,290.7 418.8,293.1 419.1,293.1 419.1,295.5 419.4,295.5 419.4,297.9 419.8,297.9 419.8,300.2 420.1,300.2 420.1,302.6 420.1,306.1 420.6,306.1 420.6,308.1 421.2,308.1 421.2,310.2 424.7,310.2 425.8,310.2 425.8,313.4 508.8,313.4" fill="none" stroke="#111111" stroke-width="1.55"/>
<polyline points="417.1,275.6 417.3,275.6 417.3,277.9 417.5,277.9 417.5,280.3 417.7,280.3 417.7,282.6 417.9,282.6 417.9,285.0 418.1,285.0 418.1,287.3 418.4,287.3 418.4,289.7 418.8,289.7 418.8,292.0 419.1,292.0 419.1,294.4 419.3,294.4 419.3,296.5 419.4,296.5 419.4,298.5 419.6,298.5 419.6,300.6 420.1,300.6 420.1,303.1 420.7,303.1 420.7,305.7 420.7,311.2 421.2,311.2 421.2,313.0 421.7,313.0 421.7,314.8 422.2,314.8 422.2,316.6 422.7,316.6 422.7,318.4 429.3,318.4 430.1,318.4 430.1,320.4 430.9,320.4 430.9,322.4 431.6,322.4 431.6,325.0 432.4,325.0 432.4,327.6 433.1,327.6 433.1,330.1 433.9,330.1 433.9,332.7 434.9,332.7 434.9,334.8 485.0,334.8" fill="none" stroke="#d82424" stroke-width="1.55"/>
<polyline points="417.1,275.6 417.5,275.6 417.5,277.8 417.9,277.8 417.9,279.9 418.2,279.9 418.2,282.1 418.6,282.1 418.6,284.2 420.1,284.2 420.1,285.3 420.6,285.3 420.6,287.1 421.2,287.1 421.2,288.8 423.2,288.8 423.2,290.9 424.7,290.9 424.7,292.4 426.3,292.4 426.3,294.9 427.3,294.9 427.3,296.5 429.3,296.5 429.3,297.5 429.8,297.5 429.8,299.6 436.5,299.6 437.5,299.6 437.5,302.6 439.3,302.6 439.3,303.1 441.1,303.1 441.1,303.6 442.1,303.6 442.1,306.7 447.1,306.7 447.5,306.7 447.5,308.7 447.8,308.7 447.8,310.7 506.0,310.7" fill="none" stroke="#1c1cc8" stroke-width="1.55"/>
<polyline points="417.1,275.6 417.4,275.6 417.4,278.1 417.8,278.1 417.8,280.7 418.1,280.7 418.1,283.2 419.1,283.2 419.1,286.3 420.7,286.3 420.7,288.3 421.4,288.3 421.4,290.4 422.2,290.4 422.2,292.4 424.2,292.4 424.2,293.4 427.3,293.4 427.3,295.0 429.4,295.0 429.4,295.0 431.5,295.0 431.5,295.0 433.7,295.0 433.7,295.0 435.8,295.0 435.8,295.0 437.9,295.0 437.9,294.9 440.0,294.9 440.0,294.9 442.2,294.9 442.2,294.9 444.3,294.9 444.3,294.9 446.4,294.9 446.4,294.9 446.8,294.9 446.8,296.9 447.1,296.9 447.1,299.0 451.3,299.0 451.6,299.0 451.6,300.8 452.0,300.8 452.0,302.5 456.2,302.5 456.4,302.5 456.4,305.1 456.7,305.1 456.7,307.6 456.9,307.6 456.9,310.2 476.6,310.2 476.7,310.2 476.7,312.2 476.9,312.2 476.9,314.2 477.0,314.2 477.0,316.3 477.2,316.3 477.2,318.3 477.3,318.3 477.3,320.3 506.7,320.3" fill="none" stroke="#1f7a2a" stroke-width="1.55"/>
<polyline points="417.1,275.6 417.3,275.6 417.3,277.7 417.4,277.7 417.4,279.8 417.6,279.8 417.6,282.0 417.8,282.0 417.8,284.1 417.9,284.1 417.9,286.2 418.1,286.2 418.1,288.3" fill="none" stroke="#111111" stroke-width="1.55"/>
</svg>
</body></html>
